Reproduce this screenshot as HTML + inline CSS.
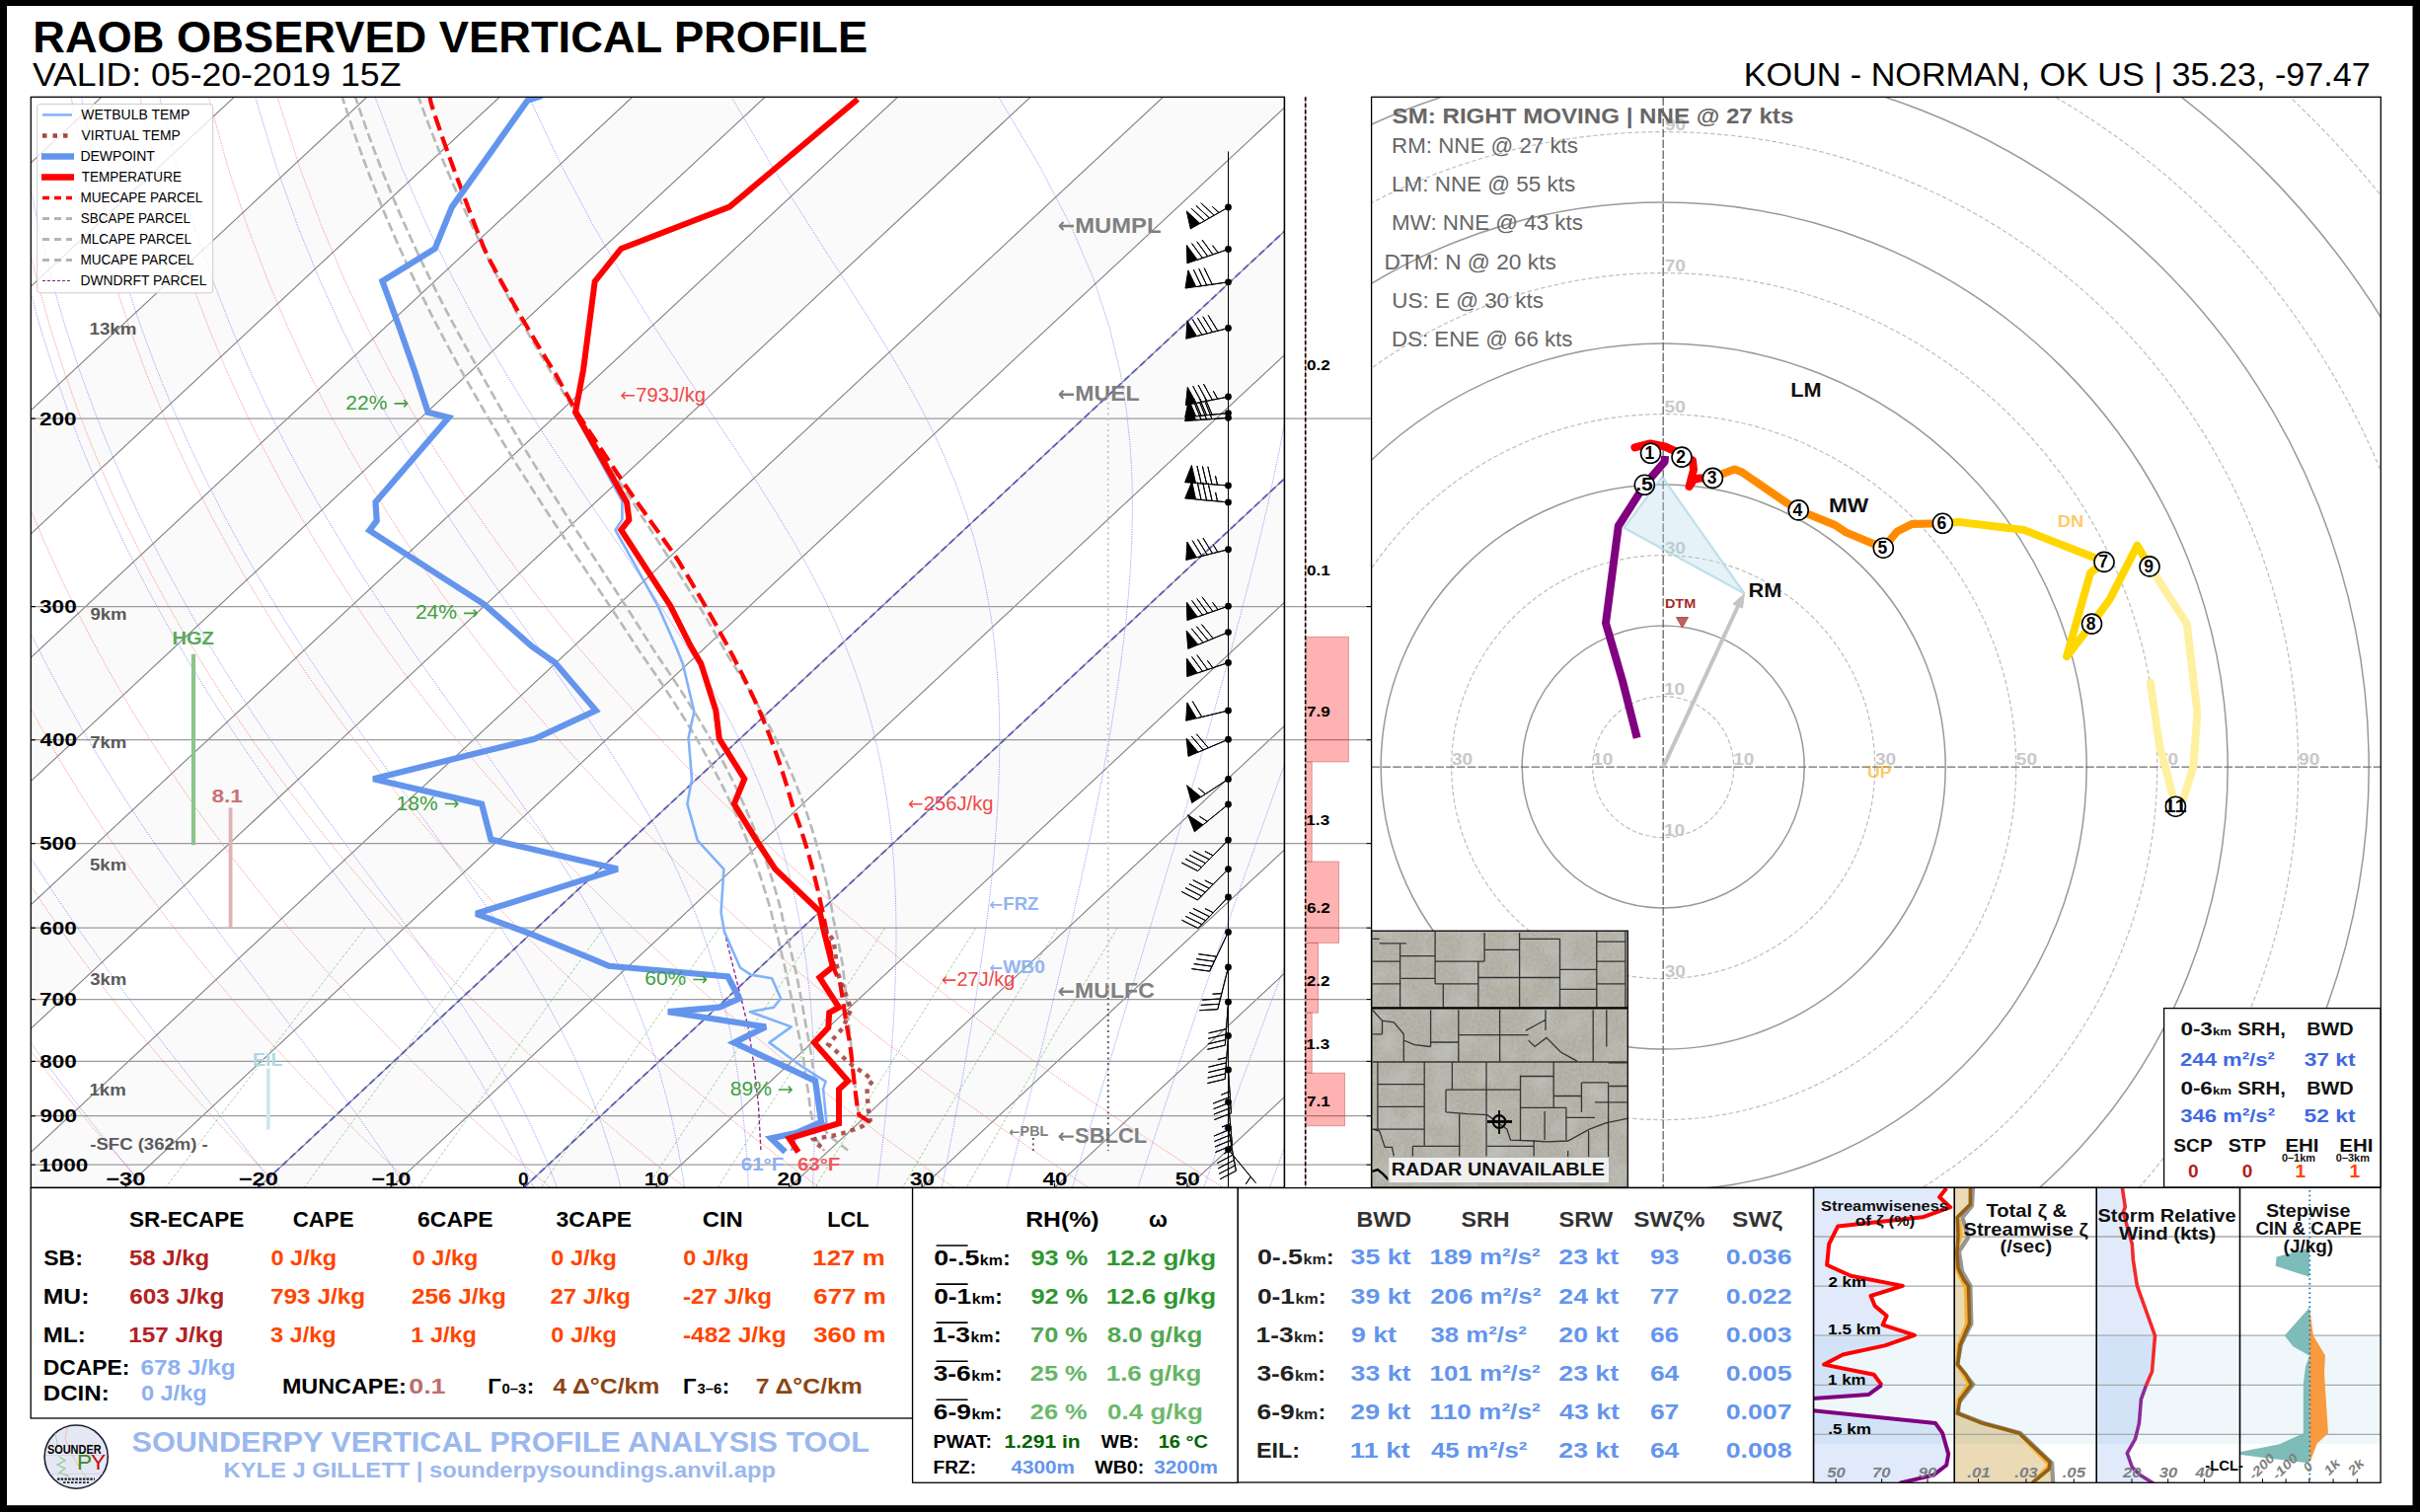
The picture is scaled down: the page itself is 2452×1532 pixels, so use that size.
<!DOCTYPE html>
<html><head><meta charset="utf-8"><style>html,body{margin:0;padding:0;background:#fff;overflow:hidden;}svg{display:block;font-family:"Liberation Sans",sans-serif;}</style></head>
<body><svg width="2452" height="1532" viewBox="0 0 2452 1532">
<rect x="0.0" y="0.0" width="2452.0" height="1532.0" fill="#ffffff" stroke="none" stroke-width="1" />
<text x="33.2" y="53.0" font-size="43.97" font-weight="bold" fill="#000" textLength="845.9" lengthAdjust="spacingAndGlyphs" >RAOB OBSERVED VERTICAL PROFILE</text>
<text x="33.0" y="87.0" font-size="33.91" fill="#000" textLength="373.4" lengthAdjust="spacingAndGlyphs" >VALID: 05-20-2019 15Z</text>
<text x="1766.7" y="87.0" font-size="33.91" fill="#000" textLength="635.1" lengthAdjust="spacingAndGlyphs" >KOUN - NORMAN, OK US | 35.23, -97.47</text>
<defs><clipPath id="cskew"><rect x="31.3" y="98.3" width="1270.1" height="1105.0"/></clipPath></defs>
<g clip-path="url(#cskew)">
<polygon points="-813.9,1203.3 -679.4,1203.3 506.2,98.3 371.8,98.3" fill="#ebebeb" stroke="none" stroke-width="0" fill-opacity="0.25"/>
<polygon points="-545.0,1203.3 -410.5,1203.3 775.1,98.3 640.7,98.3" fill="#ebebeb" stroke="none" stroke-width="0" fill-opacity="0.25"/>
<polygon points="-276.1,1203.3 -141.6,1203.3 1044.1,98.3 909.6,98.3" fill="#ebebeb" stroke="none" stroke-width="0" fill-opacity="0.25"/>
<polygon points="-7.1,1203.3 127.3,1203.3 1313.0,98.3 1178.5,98.3" fill="#ebebeb" stroke="none" stroke-width="0" fill-opacity="0.25"/>
<polygon points="261.8,1203.3 396.2,1203.3 1581.9,98.3 1447.4,98.3" fill="#ebebeb" stroke="none" stroke-width="0" fill-opacity="0.25"/>
<polygon points="530.7,1203.3 665.2,1203.3 1850.8,98.3 1716.4,98.3" fill="#ebebeb" stroke="none" stroke-width="0" fill-opacity="0.25"/>
<polygon points="799.6,1203.3 934.1,1203.3 2119.7,98.3 1985.3,98.3" fill="#ebebeb" stroke="none" stroke-width="0" fill-opacity="0.25"/>
<polygon points="1068.5,1203.3 1203.0,1203.3 2388.7,98.3 2254.2,98.3" fill="#ebebeb" stroke="none" stroke-width="0" fill-opacity="0.25"/>
<path d="M11.8,1203.1 L5.7,1195.9 L-0.4,1188.5 L-6.6,1181.0 L-12.8,1173.4 L-19.0,1165.6 L-25.3,1157.8 L-31.6,1149.8 L-38.0,1141.6 L-44.3,1133.3 L-50.7,1124.9 L-57.2,1116.3 L-63.7,1107.6 L-70.2,1098.7 L-76.8,1089.6 L-83.4,1080.3 L-90.0,1070.9 L-96.7,1061.2 L-103.4,1051.4 L-110.1,1041.3 L-116.9,1031.0 L-123.7,1020.5 L-130.6,1009.8 L-137.5,998.8 L-144.4,987.5 L-151.4,976.0 L-158.3,964.1 L-165.4,952.0 L-172.4,939.6 L-179.5,926.8 L-186.7,913.6 L-193.8,900.1 L-201.0,886.1 L-208.2,871.8 L-215.4,856.9 L-222.7,841.6 L-230.0,825.8 L-237.2,809.5 L-244.5,792.5 L-251.8,774.9 L-259.0,756.6 L-266.3,737.6 L-273.5,717.8 L-280.6,697.1 L-287.7,675.5 L-294.7,652.8 L-301.6,628.9 L-308.4,603.8 L-315.0,577.3 L-321.3,549.2 L-327.4,519.3 L-333.2,487.3 L-338.5,453.0 L-343.3,416.1 L-347.3,375.9 L-350.5,332.0 L-352.4,283.6 L-352.7,229.6 L-350.8,168.6 L-345.7,98.4 M148.2,1203.1 L141.5,1195.9 L134.7,1188.5 L127.9,1181.0 L121.1,1173.4 L114.2,1165.6 L107.3,1157.8 L100.4,1149.8 L93.4,1141.6 L86.4,1133.3 L79.3,1124.9 L72.1,1116.3 L65.0,1107.6 L57.8,1098.7 L50.5,1089.6 L43.2,1080.3 L35.8,1070.9 L28.4,1061.2 L21.0,1051.4 L13.5,1041.3 L5.9,1031.0 L-1.7,1020.5 L-9.3,1009.8 L-17.0,998.8 L-24.8,987.5 L-32.6,976.0 L-40.4,964.1 L-48.3,952.0 L-56.3,939.6 L-64.3,926.8 L-72.3,913.6 L-80.4,900.1 L-88.6,886.1 L-96.8,871.8 L-105.0,856.9 L-113.3,841.6 L-121.6,825.8 L-129.9,809.5 L-138.3,792.5 L-146.7,774.9 L-155.1,756.6 L-163.5,737.6 L-172.0,717.8 L-180.4,697.1 L-188.8,675.5 L-197.1,652.8 L-205.5,628.9 L-213.7,603.8 L-221.8,577.3 L-229.7,549.2 L-237.5,519.3 L-245.0,487.3 L-252.1,453.0 L-258.8,416.1 L-264.9,375.9 L-270.2,332.0 L-274.5,283.6 L-277.3,229.6 L-278.1,168.6 L-276.1,98.4 M284.5,1203.1 L277.2,1195.9 L269.9,1188.5 L262.5,1181.0 L255.0,1173.4 L247.5,1165.6 L240.0,1157.8 L232.4,1149.8 L224.7,1141.6 L217.0,1133.3 L209.3,1124.9 L201.5,1116.3 L193.6,1107.6 L185.7,1098.7 L177.7,1089.6 L169.7,1080.3 L161.6,1070.9 L153.5,1061.2 L145.3,1051.4 L137.0,1041.3 L128.7,1031.0 L120.3,1020.5 L111.9,1009.8 L103.4,998.8 L94.8,987.5 L86.2,976.0 L77.5,964.1 L68.7,952.0 L59.9,939.6 L51.0,926.8 L42.0,913.6 L33.0,900.1 L23.9,886.1 L14.7,871.8 L5.5,856.9 L-3.8,841.6 L-13.2,825.8 L-22.6,809.5 L-32.1,792.5 L-41.6,774.9 L-51.2,756.6 L-60.8,737.6 L-70.5,717.8 L-80.1,697.1 L-89.9,675.5 L-99.6,652.8 L-109.3,628.9 L-119.0,603.8 L-128.6,577.3 L-138.1,549.2 L-147.5,519.3 L-156.8,487.3 L-165.7,453.0 L-174.3,416.1 L-182.5,375.9 L-189.9,332.0 L-196.5,283.6 L-201.9,229.6 L-205.4,168.6 L-206.4,98.4 M420.9,1203.1 L413.0,1195.9 L405.0,1188.5 L397.0,1181.0 L388.9,1173.4 L380.8,1165.6 L372.6,1157.8 L364.4,1149.8 L356.1,1141.6 L347.7,1133.3 L339.3,1124.9 L330.8,1116.3 L322.3,1107.6 L313.7,1098.7 L305.0,1089.6 L296.2,1080.3 L287.4,1070.9 L278.6,1061.2 L269.6,1051.4 L260.6,1041.3 L251.5,1031.0 L242.3,1020.5 L233.1,1009.8 L223.8,998.8 L214.4,987.5 L204.9,976.0 L195.4,964.1 L185.7,952.0 L176.0,939.6 L166.2,926.8 L156.3,913.6 L146.4,900.1 L136.3,886.1 L126.2,871.8 L115.9,856.9 L105.6,841.6 L95.2,825.8 L84.7,809.5 L74.2,792.5 L63.5,774.9 L52.8,756.6 L41.9,737.6 L31.0,717.8 L20.1,697.1 L9.1,675.5 L-2.0,652.8 L-13.1,628.9 L-24.3,603.8 L-35.4,577.3 L-46.5,549.2 L-57.6,519.3 L-68.5,487.3 L-79.3,453.0 L-89.8,416.1 L-100.0,375.9 L-109.7,332.0 L-118.6,283.6 L-126.4,229.6 L-132.8,168.6 L-136.8,98.4 M557.2,1203.1 L548.7,1195.9 L540.1,1188.5 L531.5,1181.0 L522.8,1173.4 L514.1,1165.6 L505.3,1157.8 L496.4,1149.8 L487.4,1141.6 L478.4,1133.3 L469.3,1124.9 L460.2,1116.3 L450.9,1107.6 L441.6,1098.7 L432.2,1089.6 L422.8,1080.3 L413.2,1070.9 L403.6,1061.2 L393.9,1051.4 L384.2,1041.3 L374.3,1031.0 L364.4,1020.5 L354.3,1009.8 L344.2,998.8 L334.0,987.5 L323.7,976.0 L313.3,964.1 L302.8,952.0 L292.2,939.6 L281.5,926.8 L270.7,913.6 L259.8,900.1 L248.7,886.1 L237.6,871.8 L226.4,856.9 L215.1,841.6 L203.6,825.8 L192.0,809.5 L180.4,792.5 L168.6,774.9 L156.7,756.6 L144.7,737.6 L132.5,717.8 L120.3,697.1 L108.0,675.5 L95.5,652.8 L83.0,628.9 L70.4,603.8 L57.8,577.3 L45.1,549.2 L32.4,519.3 L19.7,487.3 L7.1,453.0 L-5.4,416.1 L-17.6,375.9 L-29.4,332.0 L-40.6,283.6 L-51.0,229.6 L-60.1,168.6 L-67.2,98.4 M693.6,1203.1 L684.5,1195.9 L675.3,1188.5 L666.0,1181.0 L656.7,1173.4 L647.3,1165.6 L637.9,1157.8 L628.4,1149.8 L618.8,1141.6 L609.1,1133.3 L599.3,1124.9 L589.5,1116.3 L579.6,1107.6 L569.6,1098.7 L559.5,1089.6 L549.3,1080.3 L539.1,1070.9 L528.7,1061.2 L518.3,1051.4 L507.7,1041.3 L497.1,1031.0 L486.4,1020.5 L475.5,1009.8 L464.6,998.8 L453.6,987.5 L442.4,976.0 L431.2,964.1 L419.8,952.0 L408.3,939.6 L396.7,926.8 L385.0,913.6 L373.2,900.1 L361.2,886.1 L349.1,871.8 L336.9,856.9 L324.5,841.6 L312.0,825.8 L299.4,809.5 L286.6,792.5 L273.7,774.9 L260.6,756.6 L247.4,737.6 L234.0,717.8 L220.5,697.1 L206.9,675.5 L193.1,652.8 L179.2,628.9 L165.1,603.8 L151.0,577.3 L136.7,549.2 L122.3,519.3 L107.9,487.3 L93.5,453.0 L79.1,416.1 L64.9,375.9 L50.9,332.0 L37.3,283.6 L24.4,229.6 L12.6,168.6 L2.5,98.4 M829.9,1203.1 L820.2,1195.9 L810.4,1188.5 L800.6,1181.0 L790.6,1173.4 L780.6,1165.6 L770.5,1157.8 L760.4,1149.8 L750.1,1141.6 L739.8,1133.3 L729.3,1124.9 L718.8,1116.3 L708.2,1107.6 L697.5,1098.7 L686.7,1089.6 L675.9,1080.3 L664.9,1070.9 L653.8,1061.2 L642.6,1051.4 L631.3,1041.3 L619.9,1031.0 L608.4,1020.5 L596.8,1009.8 L585.0,998.8 L573.2,987.5 L561.2,976.0 L549.1,964.1 L536.8,952.0 L524.5,939.6 L512.0,926.8 L499.3,913.6 L486.6,900.1 L473.6,886.1 L460.6,871.8 L447.3,856.9 L433.9,841.6 L420.4,825.8 L406.7,809.5 L392.8,792.5 L378.8,774.9 L364.5,756.6 L350.1,737.6 L335.5,717.8 L320.8,697.1 L305.8,675.5 L290.7,652.8 L275.3,628.9 L259.8,603.8 L244.1,577.3 L228.3,549.2 L212.3,519.3 L196.1,487.3 L179.9,453.0 L163.6,416.1 L147.3,375.9 L131.2,332.0 L115.3,283.6 L99.8,229.6 L85.3,168.6 L72.1,98.4 M966.3,1203.1 L956.0,1195.9 L945.6,1188.5 L935.1,1181.0 L924.5,1173.4 L913.9,1165.6 L903.2,1157.8 L892.4,1149.8 L881.4,1141.6 L870.5,1133.3 L859.4,1124.9 L848.2,1116.3 L836.9,1107.6 L825.5,1098.7 L814.0,1089.6 L802.4,1080.3 L790.7,1070.9 L778.9,1061.2 L766.9,1051.4 L754.9,1041.3 L742.7,1031.0 L730.4,1020.5 L718.0,1009.8 L705.4,998.8 L692.8,987.5 L679.9,976.0 L667.0,964.1 L653.9,952.0 L640.6,939.6 L627.2,926.8 L613.7,913.6 L600.0,900.1 L586.1,886.1 L572.0,871.8 L557.8,856.9 L543.4,841.6 L528.8,825.8 L514.0,809.5 L499.0,792.5 L483.8,774.9 L468.5,756.6 L452.9,737.6 L437.0,717.8 L421.0,697.1 L404.7,675.5 L388.2,652.8 L371.5,628.9 L354.5,603.8 L337.3,577.3 L319.9,549.2 L302.2,519.3 L284.4,487.3 L266.3,453.0 L248.1,416.1 L229.8,375.9 L211.4,332.0 L193.2,283.6 L175.3,229.6 L158.0,168.6 L141.8,98.4 M1102.6,1203.1 L1091.7,1195.9 L1080.7,1188.5 L1069.6,1181.0 L1058.4,1173.4 L1047.2,1165.6 L1035.8,1157.8 L1024.4,1149.8 L1012.8,1141.6 L1001.1,1133.3 L989.4,1124.9 L977.5,1116.3 L965.5,1107.6 L953.4,1098.7 L941.2,1089.6 L928.9,1080.3 L916.5,1070.9 L903.9,1061.2 L891.3,1051.4 L878.4,1041.3 L865.5,1031.0 L852.4,1020.5 L839.2,1009.8 L825.9,998.8 L812.3,987.5 L798.7,976.0 L784.9,964.1 L770.9,952.0 L756.8,939.6 L742.5,926.8 L728.0,913.6 L713.3,900.1 L698.5,886.1 L683.5,871.8 L668.2,856.9 L652.8,841.6 L637.2,825.8 L621.3,809.5 L605.2,792.5 L588.9,774.9 L572.4,756.6 L555.6,737.6 L538.5,717.8 L521.2,697.1 L503.7,675.5 L485.8,652.8 L467.7,628.9 L449.2,603.8 L430.5,577.3 L411.5,549.2 L392.2,519.3 L372.6,487.3 L352.7,453.0 L332.6,416.1 L312.2,375.9 L291.7,332.0 L271.1,283.6 L250.7,229.6 L230.6,168.6 L211.4,98.4 M1239.0,1203.1 L1227.4,1195.9 L1215.8,1188.5 L1204.1,1181.0 L1192.3,1173.4 L1180.4,1165.6 L1168.4,1157.8 L1156.3,1149.8 L1144.1,1141.6 L1131.8,1133.3 L1119.4,1124.9 L1106.8,1116.3 L1094.2,1107.6 L1081.4,1098.7 L1068.5,1089.6 L1055.5,1080.3 L1042.3,1070.9 L1029.0,1061.2 L1015.6,1051.4 L1002.0,1041.3 L988.3,1031.0 L974.4,1020.5 L960.4,1009.8 L946.3,998.8 L931.9,987.5 L917.4,976.0 L902.8,964.1 L888.0,952.0 L872.9,939.6 L857.7,926.8 L842.3,913.6 L826.7,900.1 L810.9,886.1 L794.9,871.8 L778.7,856.9 L762.3,841.6 L745.6,825.8 L728.6,809.5 L711.5,792.5 L694.0,774.9 L676.3,756.6 L658.3,737.6 L640.0,717.8 L621.5,697.1 L602.6,675.5 L583.4,652.8 L563.8,628.9 L543.9,603.8 L523.7,577.3 L503.1,549.2 L482.1,519.3 L460.8,487.3 L439.1,453.0 L417.1,416.1 L394.7,375.9 L372.0,332.0 L349.1,283.6 L326.1,229.6 L303.3,168.6 L281.1,98.4" fill="none" stroke="#ff0000" stroke-opacity="0.55" stroke-width="0.8" stroke-dasharray="1.2 1.2"/>
<path d="M10.8,1203.1 L5.1,1195.9 L-0.7,1188.5 L-6.6,1181.0 L-7.2,1180.2 L-12.5,1173.4 L-18.5,1165.6 L-24.5,1157.8 L-30.6,1149.8 L-36.8,1141.6 L-43.0,1133.3 L-49.2,1124.9 L-55.5,1116.3 L-61.9,1107.6 L-68.3,1098.7 L-74.7,1089.6 L-81.2,1080.3 L-87.7,1070.9 L-94.3,1061.2 L-101.0,1051.4 L-107.7,1041.3 L-114.4,1031.0 L-121.2,1020.5 L-128.0,1009.8 L-134.9,998.8 L-141.8,987.5 L-148.7,976.0 L-155.7,964.1 L-162.7,952.0 L-169.8,939.6 L-176.9,926.8 L-184.0,913.6 L-191.2,900.1 L-198.4,886.1 L-205.6,871.8 L-212.9,856.9 L-220.1,841.6 L-227.4,825.8 L-234.7,809.5 L-242.0,792.5 L-249.3,774.9 L-256.6,756.6 L-263.8,737.6 L-271.1,717.8 L-278.2,697.1 L-285.4,675.5 L-292.4,652.8 L-299.3,628.9 L-306.1,603.8 L-312.8,577.3 L-319.2,549.2 L-325.3,519.3 L-331.1,487.3 L-336.5,453.0 L-341.3,416.1 L-345.4,375.9 L-348.6,332.0 L-350.6,283.6 L-350.9,229.6 L-349.1,168.6 L-344.1,98.4 M145.7,1203.1 L139.8,1195.9 L133.9,1188.5 L127.9,1181.0 L127.2,1180.2 L121.8,1173.4 L115.6,1165.6 L109.3,1157.8 L102.9,1149.8 L96.4,1141.6 L89.9,1133.3 L83.3,1124.9 L76.6,1116.3 L69.8,1107.6 L62.9,1098.7 L56.0,1089.6 L48.9,1080.3 L41.8,1070.9 L34.6,1061.2 L27.4,1051.4 L20.1,1041.3 L12.7,1031.0 L5.2,1020.5 L-2.3,1009.8 L-10.0,998.8 L-17.6,987.5 L-25.4,976.0 L-33.2,964.1 L-41.1,952.0 L-49.0,939.6 L-57.0,926.8 L-65.0,913.6 L-73.1,900.1 L-81.3,886.1 L-89.5,871.8 L-97.8,856.9 L-106.1,841.6 L-114.5,825.8 L-122.9,809.5 L-131.3,792.5 L-139.8,774.9 L-148.3,756.6 L-156.8,737.6 L-165.3,717.8 L-173.8,697.1 L-182.3,675.5 L-190.7,652.8 L-199.1,628.9 L-207.4,603.8 L-215.6,577.3 L-223.7,549.2 L-231.6,519.3 L-239.2,487.3 L-246.4,453.0 L-253.2,416.1 L-259.5,375.9 L-264.9,332.0 L-269.3,283.6 L-272.3,229.6 L-273.3,168.6 L-271.5,98.4 M279.1,1203.1 L273.6,1195.9 L268.0,1188.5 L262.3,1181.0 L261.7,1180.2 L256.4,1173.4 L250.5,1165.6 L244.3,1157.8 L238.1,1149.8 L231.7,1141.6 L225.2,1133.3 L218.6,1124.9 L211.8,1116.3 L204.9,1107.6 L197.9,1098.7 L190.7,1089.6 L183.5,1080.3 L176.0,1070.9 L168.5,1061.2 L160.9,1051.4 L153.1,1041.3 L145.2,1031.0 L137.2,1020.5 L129.1,1009.8 L120.9,998.8 L112.6,987.5 L104.1,976.0 L95.6,964.1 L86.9,952.0 L78.2,939.6 L69.3,926.8 L60.4,913.6 L51.3,900.1 L42.2,886.1 L33.0,871.8 L23.7,856.9 L14.3,841.6 L4.8,825.8 L-4.7,809.5 L-14.3,792.5 L-24.0,774.9 L-33.8,756.6 L-43.6,737.6 L-53.4,717.8 L-63.3,697.1 L-73.3,675.5 L-83.2,652.8 L-93.1,628.9 L-103.1,603.8 L-112.9,577.3 L-122.7,549.2 L-132.4,519.3 L-141.9,487.3 L-151.2,453.0 L-160.1,416.1 L-168.6,375.9 L-176.4,332.0 L-183.4,283.6 L-189.2,229.6 L-193.2,168.6 L-194.7,98.4 M410.6,1203.1 L406.1,1195.9 L401.5,1188.5 L396.7,1181.0 L396.1,1180.2 L391.7,1173.4 L386.6,1165.6 L381.3,1157.8 L375.8,1149.8 L370.1,1141.6 L364.3,1133.3 L358.3,1124.9 L352.1,1116.3 L345.8,1107.6 L339.2,1098.7 L332.5,1089.6 L325.5,1080.3 L318.4,1070.9 L311.1,1061.2 L303.5,1051.4 L295.8,1041.3 L287.9,1031.0 L279.8,1020.5 L271.5,1009.8 L263.1,998.8 L254.4,987.5 L245.6,976.0 L236.5,964.1 L227.3,952.0 L218.0,939.6 L208.4,926.8 L198.7,913.6 L188.9,900.1 L178.9,886.1 L168.7,871.8 L158.4,856.9 L147.9,841.6 L137.3,825.8 L126.6,809.5 L115.7,792.5 L104.7,774.9 L93.6,756.6 L82.4,737.6 L71.1,717.8 L59.7,697.1 L48.2,675.5 L36.6,652.8 L24.9,628.9 L13.2,603.8 L1.5,577.3 L-10.2,549.2 L-21.9,519.3 L-33.6,487.3 L-45.1,453.0 L-56.4,416.1 L-67.3,375.9 L-77.8,332.0 L-87.7,283.6 L-96.5,229.6 L-103.9,168.6 L-109.2,98.4 M540.5,1203.1 L537.5,1195.9 L534.3,1188.5 L531.0,1181.0 L530.6,1180.2 L527.5,1173.4 L523.9,1165.6 L520.1,1157.8 L516.1,1149.8 L512.0,1141.6 L507.7,1133.3 L503.1,1124.9 L498.4,1116.3 L493.5,1107.6 L488.4,1098.7 L483.0,1089.6 L477.4,1080.3 L471.5,1070.9 L465.4,1061.2 L459.1,1051.4 L452.4,1041.3 L445.5,1031.0 L438.3,1020.5 L430.8,1009.8 L423.1,998.8 L415.0,987.5 L406.6,976.0 L398.0,964.1 L389.0,952.0 L379.7,939.6 L370.1,926.8 L360.3,913.6 L350.1,900.1 L339.6,886.1 L328.9,871.8 L317.9,856.9 L306.6,841.6 L295.0,825.8 L283.2,809.5 L271.2,792.5 L258.9,774.9 L246.4,756.6 L233.6,737.6 L220.7,717.8 L207.5,697.1 L194.2,675.5 L180.7,652.8 L167.1,628.9 L153.3,603.8 L139.3,577.3 L125.3,549.2 L111.2,519.3 L97.0,487.3 L82.8,453.0 L68.7,416.1 L54.7,375.9 L40.9,332.0 L27.7,283.6 L15.1,229.6 L3.6,168.6 L-6.1,98.4 M564.4,1203.1 L561.7,1195.9 L558.8,1188.5 L555.8,1181.0 L555.5,1180.2 L552.7,1173.4 L549.4,1165.6 L545.9,1157.8 L542.3,1149.8 L538.5,1141.6 L534.5,1133.3 L530.4,1124.9 L526.0,1116.3 L521.5,1107.6 L516.7,1098.7 L511.7,1089.6 L506.5,1080.3 L501.0,1070.9 L495.2,1061.2 L489.2,1051.4 L483.0,1041.3 L476.4,1031.0 L469.5,1020.5 L462.4,1009.8 L454.9,998.8 L447.1,987.5 L439.0,976.0 L430.6,964.1 L421.8,952.0 L412.7,939.6 L403.3,926.8 L393.6,913.6 L383.5,900.1 L373.1,886.1 L362.3,871.8 L351.3,856.9 L339.9,841.6 L328.3,825.8 L316.3,809.5 L304.1,792.5 L291.6,774.9 L278.9,756.6 L265.8,737.6 L252.6,717.8 L239.1,697.1 L225.5,675.5 L211.6,652.8 L197.5,628.9 L183.3,603.8 L168.9,577.3 L154.3,549.2 L139.7,519.3 L125.0,487.3 L110.2,453.0 L95.5,416.1 L80.8,375.9 L66.4,332.0 L52.4,283.6 L39.0,229.6 L26.7,168.6 L16.0,98.4 M629.0,1203.1 L627.1,1195.9 L625.1,1188.5 L622.9,1181.0 L622.7,1180.2 L620.7,1173.4 L618.3,1165.6 L615.8,1157.8 L613.2,1149.8 L610.4,1141.6 L607.5,1133.3 L604.4,1124.9 L601.1,1116.3 L597.7,1107.6 L594.0,1098.7 L590.2,1089.6 L586.1,1080.3 L581.8,1070.9 L577.2,1061.2 L572.4,1051.4 L567.4,1041.3 L562.0,1031.0 L556.3,1020.5 L550.4,1009.8 L544.0,998.8 L537.4,987.5 L530.4,976.0 L523.0,964.1 L515.2,952.0 L507.0,939.6 L498.4,926.8 L489.4,913.6 L479.9,900.1 L470.1,886.1 L459.8,871.8 L449.0,856.9 L437.8,841.6 L426.2,825.8 L414.1,809.5 L401.7,792.5 L388.8,774.9 L375.6,756.6 L362.0,737.6 L348.0,717.8 L333.7,697.1 L319.1,675.5 L304.1,652.8 L288.9,628.9 L273.4,603.8 L257.6,577.3 L241.7,549.2 L225.5,519.3 L209.1,487.3 L192.7,453.0 L176.1,416.1 L159.5,375.9 L143.1,332.0 L126.8,283.6 L111.0,229.6 L96.1,168.6 L82.5,98.4 M693.6,1203.1 L692.5,1195.9 L691.3,1188.5 L690.1,1181.0 L689.9,1180.2 L688.7,1173.4 L687.3,1165.6 L685.8,1157.8 L684.1,1149.8 L682.4,1141.6 L680.5,1133.3 L678.5,1124.9 L676.4,1116.3 L674.1,1107.6 L671.7,1098.7 L669.1,1089.6 L666.4,1080.3 L663.4,1070.9 L660.3,1061.2 L656.9,1051.4 L653.3,1041.3 L649.4,1031.0 L645.3,1020.5 L640.9,1009.8 L636.2,998.8 L631.1,987.5 L625.7,976.0 L620.0,964.1 L613.8,952.0 L607.2,939.6 L600.2,926.8 L592.7,913.6 L584.7,900.1 L576.2,886.1 L567.1,871.8 L557.5,856.9 L547.3,841.6 L536.5,825.8 L525.1,809.5 L513.2,792.5 L500.6,774.9 L487.4,756.6 L473.7,737.6 L459.4,717.8 L444.5,697.1 L429.2,675.5 L413.3,652.8 L397.0,628.9 L380.2,603.8 L363.0,577.3 L345.5,549.2 L327.6,519.3 L309.4,487.3 L290.9,453.0 L272.2,416.1 L253.3,375.9 L234.4,332.0 L215.5,283.6 L196.9,229.6 L178.8,168.6 L161.7,98.4 M758.4,1203.1 L758.0,1195.9 L757.7,1188.5 L757.2,1181.0 L757.2,1180.2 L756.7,1173.4 L756.2,1165.6 L755.6,1157.8 L754.9,1149.8 L754.1,1141.6 L753.3,1133.3 L752.4,1124.9 L751.4,1116.3 L750.3,1107.6 L749.0,1098.7 L747.7,1089.6 L746.3,1080.3 L744.7,1070.9 L743.0,1061.2 L741.1,1051.4 L739.0,1041.3 L736.8,1031.0 L734.4,1020.5 L731.7,1009.8 L728.8,998.8 L725.7,987.5 L722.2,976.0 L718.5,964.1 L714.4,952.0 L710.0,939.6 L705.2,926.8 L699.9,913.6 L694.2,900.1 L688.0,886.1 L681.2,871.8 L673.8,856.9 L665.9,841.6 L657.2,825.8 L647.8,809.5 L637.7,792.5 L626.7,774.9 L614.9,756.6 L602.3,737.6 L588.8,717.8 L574.5,697.1 L559.3,675.5 L543.2,652.8 L526.4,628.9 L508.8,603.8 L490.4,577.3 L471.4,549.2 L451.7,519.3 L431.5,487.3 L410.7,453.0 L389.5,416.1 L367.9,375.9 L346.0,332.0 L323.9,283.6 L301.8,229.6 L279.9,168.6 L258.6,98.4 M823.4,1203.1 L823.8,1195.9 L824.1,1188.5 L824.4,1181.0 L824.4,1180.2 L824.6,1173.4 L824.9,1165.6 L825.1,1157.8 L825.3,1149.8 L825.4,1141.6 L825.5,1133.3 L825.5,1124.9 L825.5,1116.3 L825.5,1107.6 L825.4,1098.7 L825.2,1089.6 L825.0,1080.3 L824.7,1070.9 L824.3,1061.2 L823.8,1051.4 L823.2,1041.3 L822.5,1031.0 L821.7,1020.5 L820.7,1009.8 L819.6,998.8 L818.3,987.5 L816.9,976.0 L815.2,964.1 L813.4,952.0 L811.3,939.6 L808.9,926.8 L806.2,913.6 L803.2,900.1 L799.8,886.1 L796.0,871.8 L791.7,856.9 L786.9,841.6 L781.5,825.8 L775.4,809.5 L768.7,792.5 L761.1,774.9 L752.7,756.6 L743.3,737.6 L732.8,717.8 L721.3,697.1 L708.5,675.5 L694.4,652.8 L679.0,628.9 L662.3,603.8 L644.2,577.3 L624.8,549.2 L604.2,519.3 L582.4,487.3 L559.5,453.0 L535.7,416.1 L511.0,375.9 L485.7,332.0 L459.7,283.6 L433.2,229.6 L406.6,168.6 L380.0,98.4 M888.8,1203.1 L889.7,1195.9 L890.6,1188.5 L891.5,1181.0 L891.6,1180.2 L892.5,1173.4 L893.4,1165.6 L894.3,1157.8 L895.2,1149.8 L896.1,1141.6 L897.0,1133.3 L897.9,1124.9 L898.7,1116.3 L899.6,1107.6 L900.4,1098.7 L901.2,1089.6 L902.0,1080.3 L902.8,1070.9 L903.5,1061.2 L904.2,1051.4 L904.9,1041.3 L905.5,1031.0 L906.1,1020.5 L906.6,1009.8 L907.0,998.8 L907.4,987.5 L907.7,976.0 L907.9,964.1 L908.0,952.0 L908.0,939.6 L907.8,926.8 L907.5,913.6 L907.0,900.1 L906.3,886.1 L905.4,871.8 L904.2,856.9 L902.7,841.6 L900.8,825.8 L898.5,809.5 L895.8,792.5 L892.6,774.9 L888.7,756.6 L884.1,737.6 L878.7,717.8 L872.3,697.1 L864.8,675.5 L856.0,652.8 L845.8,628.9 L833.9,603.8 L820.1,577.3 L804.4,549.2 L786.4,519.3 L766.2,487.3 L743.7,453.0 L718.9,416.1 L692.1,375.9 L663.5,332.0 L633.3,283.6 L601.8,229.6 L569.2,168.6 L536.0,98.4 M954.4,1203.1 L955.8,1195.9 L957.3,1188.5 L958.7,1181.0 L958.9,1180.2 L960.2,1173.4 L961.6,1165.6 L963.1,1157.8 L964.7,1149.8 L966.2,1141.6 L967.7,1133.3 L969.3,1124.9 L970.9,1116.3 L972.4,1107.6 L974.0,1098.7 L975.7,1089.6 L977.3,1080.3 L978.9,1070.9 L980.6,1061.2 L982.2,1051.4 L983.9,1041.3 L985.6,1031.0 L987.3,1020.5 L989.0,1009.8 L990.7,998.8 L992.3,987.5 L994.0,976.0 L995.7,964.1 L997.4,952.0 L999.0,939.6 L1000.6,926.8 L1002.2,913.6 L1003.7,900.1 L1005.2,886.1 L1006.6,871.8 L1007.9,856.9 L1009.1,841.6 L1010.2,825.8 L1011.2,809.5 L1011.9,792.5 L1012.5,774.9 L1012.8,756.6 L1012.7,737.6 L1012.3,717.8 L1011.4,697.1 L1009.9,675.5 L1007.7,652.8 L1004.7,628.9 L1000.5,603.8 L995.1,577.3 L988.0,549.2 L978.9,519.3 L967.3,487.3 L952.8,453.0 L934.7,416.1 L912.6,375.9 L886.2,332.0 L855.5,283.6 L820.7,229.6 L782.3,168.6 L741.3,98.4 M1020.4,1203.1 L1022.2,1195.9 L1024.0,1188.5 L1025.9,1181.0 L1026.1,1180.2 L1027.8,1173.4 L1029.7,1165.6 L1031.7,1157.8 L1033.7,1149.8 L1035.7,1141.6 L1037.8,1133.3 L1039.9,1124.9 L1042.0,1116.3 L1044.2,1107.6 L1046.4,1098.7 L1048.6,1089.6 L1050.9,1080.3 L1053.2,1070.9 L1055.6,1061.2 L1058.0,1051.4 L1060.4,1041.3 L1062.9,1031.0 L1065.5,1020.5 L1068.0,1009.8 L1070.7,998.8 L1073.3,987.5 L1076.1,976.0 L1078.8,964.1 L1081.7,952.0 L1084.5,939.6 L1087.5,926.8 L1090.4,913.6 L1093.5,900.1 L1096.5,886.1 L1099.6,871.8 L1102.8,856.9 L1106.0,841.6 L1109.2,825.8 L1112.5,809.5 L1115.8,792.5 L1119.1,774.9 L1122.4,756.6 L1125.7,737.6 L1128.9,717.8 L1132.1,697.1 L1135.2,675.5 L1138.1,652.8 L1140.9,628.9 L1143.3,603.8 L1145.3,577.3 L1146.8,549.2 L1147.4,519.3 L1147.1,487.3 L1145.3,453.0 L1141.4,416.1 L1134.8,375.9 L1124.3,332.0 L1108.4,283.6 L1085.4,229.6 L1053.5,168.6 L1011.9,98.4 M1086.6,1203.1 L1088.7,1195.9 L1090.9,1188.5 L1093.1,1181.0 L1093.3,1180.2 L1095.3,1173.4 L1097.6,1165.6 L1099.9,1157.8 L1102.3,1149.8 L1104.7,1141.6 L1107.2,1133.3 L1109.7,1124.9 L1112.2,1116.3 L1114.9,1107.6 L1117.5,1098.7 L1120.2,1089.6 L1123.0,1080.3 L1125.9,1070.9 L1128.7,1061.2 L1131.7,1051.4 L1134.7,1041.3 L1137.8,1031.0 L1141.0,1020.5 L1144.2,1009.8 L1147.6,998.8 L1151.0,987.5 L1154.5,976.0 L1158.0,964.1 L1161.7,952.0 L1165.5,939.6 L1169.3,926.8 L1173.3,913.6 L1177.3,900.1 L1181.5,886.1 L1185.8,871.8 L1190.3,856.9 L1194.8,841.6 L1199.5,825.8 L1204.4,809.5 L1209.3,792.5 L1214.5,774.9 L1219.8,756.6 L1225.3,737.6 L1230.9,717.8 L1236.7,697.1 L1242.8,675.5 L1249.0,652.8 L1255.3,628.9 L1261.9,603.8 L1268.7,577.3 L1275.6,549.2 L1282.7,519.3 L1289.8,487.3 L1296.9,453.0 L1303.8,416.1 L1310.4,375.9 L1316.2,332.0 L1320.6,283.6 L1322.5,229.6 L1319.8,168.6 L1309.2,98.4 M1153.1,1203.1 L1155.4,1195.9 L1157.8,1188.5 L1160.3,1181.0 L1160.5,1180.2 L1162.8,1173.4 L1165.3,1165.6 L1167.9,1157.8 L1170.6,1149.8 L1173.3,1141.6 L1176.0,1133.3 L1178.9,1124.9 L1181.7,1116.3 L1184.7,1107.6 L1187.7,1098.7 L1190.8,1089.6 L1193.9,1080.3 L1197.1,1070.9 L1200.4,1061.2 L1203.8,1051.4 L1207.2,1041.3 L1210.7,1031.0 L1214.4,1020.5 L1218.1,1009.8 L1221.9,998.8 L1225.8,987.5 L1229.8,976.0 L1234.0,964.1 L1238.2,952.0 L1242.6,939.6 L1247.1,926.8 L1251.8,913.6 L1256.6,900.1 L1261.5,886.1 L1266.6,871.8 L1271.9,856.9 L1277.4,841.6 L1283.1,825.8 L1288.9,809.5 L1295.0,792.5 L1301.4,774.9 L1308.0,756.6 L1314.8,737.6 L1322.0,717.8 L1329.5,697.1 L1337.3,675.5 L1345.5,652.8 L1354.1,628.9 L1363.1,603.8 L1372.7,577.3 L1382.7,549.2 L1393.3,519.3 L1404.6,487.3 L1416.6,453.0 L1429.3,416.1 L1442.9,375.9 L1457.4,332.0 L1472.8,283.6 L1489.2,229.6 L1506.4,168.6 L1523.9,98.4 M1219.7,1203.1 L1222.3,1195.9 L1224.9,1188.5 L1227.5,1181.0 L1227.8,1180.2 L1230.2,1173.4 L1232.9,1165.6 L1235.7,1157.8 L1238.6,1149.8 L1241.5,1141.6 L1244.5,1133.3 L1247.5,1124.9 L1250.6,1116.3 L1253.8,1107.6 L1257.0,1098.7 L1260.3,1089.6 L1263.7,1080.3 L1267.2,1070.9 L1270.8,1061.2 L1274.4,1051.4 L1278.2,1041.3 L1282.0,1031.0 L1286.0,1020.5 L1290.0,1009.8 L1294.2,998.8 L1298.5,987.5 L1302.9,976.0 L1307.4,964.1 L1312.0,952.0 L1316.8,939.6 L1321.8,926.8 L1326.9,913.6 L1332.2,900.1 L1337.7,886.1 L1343.3,871.8 L1349.2,856.9 L1355.2,841.6 L1361.6,825.8 L1368.1,809.5 L1374.9,792.5 L1382.0,774.9 L1389.4,756.6 L1397.2,737.6 L1405.3,717.8 L1413.8,697.1 L1422.7,675.5 L1432.1,652.8 L1442.1,628.9 L1452.5,603.8 L1463.7,577.3 L1475.5,549.2 L1488.2,519.3 L1501.7,487.3 L1516.3,453.0 L1532.1,416.1 L1549.3,375.9 L1568.1,332.0 L1588.8,283.6 L1611.8,229.6 L1637.7,168.6 L1667.1,98.4 M1286.6,1203.1 L1289.2,1195.9 L1292.0,1188.5 L1294.7,1181.0 L1295.0,1180.2 L1297.5,1173.4 L1300.4,1165.6 L1303.3,1157.8 L1306.3,1149.8 L1309.4,1141.6 L1312.5,1133.3 L1315.7,1124.9 L1319.0,1116.3 L1322.3,1107.6 L1325.7,1098.7 L1329.2,1089.6 L1332.8,1080.3 L1336.4,1070.9 L1340.2,1061.2 L1344.0,1051.4 L1348.0,1041.3 L1352.0,1031.0 L1356.2,1020.5 L1360.4,1009.8 L1364.8,998.8 L1369.3,987.5 L1374.0,976.0 L1378.8,964.1 L1383.7,952.0 L1388.8,939.6 L1394.0,926.8 L1399.4,913.6 L1405.1,900.1 L1410.8,886.1 L1416.8,871.8 L1423.1,856.9 L1429.5,841.6 L1436.2,825.8 L1443.2,809.5 L1450.5,792.5 L1458.1,774.9 L1466.0,756.6 L1474.3,737.6 L1483.0,717.8 L1492.1,697.1 L1501.7,675.5 L1511.9,652.8 L1522.6,628.9 L1533.9,603.8 L1546.0,577.3 L1558.9,549.2 L1572.7,519.3 L1587.5,487.3 L1603.6,453.0 L1621.0,416.1 L1640.1,375.9 L1661.1,332.0 L1684.5,283.6 L1710.7,229.6 L1740.7,168.6 L1775.3,98.4" fill="none" stroke="#0000ff" stroke-opacity="0.5" stroke-width="0.8" stroke-dasharray="1.2 1.2"/>
<path d="M370.2,940.2 L356.1,958.4 L342.5,975.9 L329.4,992.8 L316.8,1009.1 L304.6,1024.8 L292.8,1040.1 L281.5,1054.8 L270.4,1069.1 L259.8,1083.0 L249.4,1096.5 L239.3,1109.6 L229.5,1122.4 L220.0,1134.8 L210.8,1146.9 L201.7,1158.7 L193.0,1170.2 L184.4,1181.4 L176.0,1192.4 L167.9,1203.1 M503.0,940.2 L489.4,958.4 L476.3,975.9 L463.7,992.8 L451.5,1009.1 L439.8,1024.8 L428.5,1040.1 L417.5,1054.8 L406.9,1069.1 L396.7,1083.0 L386.7,1096.5 L377.0,1109.6 L367.6,1122.4 L358.5,1134.8 L349.6,1146.9 L340.9,1158.7 L332.5,1170.2 L324.3,1181.4 L316.2,1192.4 L308.4,1203.1 M611.9,940.2 L598.7,958.4 L586.0,975.9 L573.9,992.8 L562.1,1009.1 L550.8,1024.8 L539.8,1040.1 L529.3,1054.8 L519.0,1069.1 L509.1,1083.0 L499.5,1096.5 L490.1,1109.6 L481.1,1122.4 L472.2,1134.8 L463.7,1146.9 L455.3,1158.7 L447.2,1170.2 L439.2,1181.4 L431.5,1192.4 L423.9,1203.1 M728.8,940.2 L716.1,958.4 L703.9,975.9 L692.2,992.8 L680.9,1009.1 L670.0,1024.8 L659.5,1040.1 L649.3,1054.8 L639.5,1069.1 L629.9,1083.0 L620.7,1096.5 L611.7,1109.6 L603.0,1122.4 L594.6,1134.8 L586.3,1146.9 L578.3,1158.7 L570.5,1170.2 L562.9,1181.4 L555.5,1192.4 L548.3,1203.1 M829.5,940.2 L817.2,958.4 L805.4,975.9 L794.1,992.8 L783.2,1009.1 L772.7,1024.8 L762.6,1040.1 L752.8,1054.8 L743.3,1069.1 L734.1,1083.0 L725.2,1096.5 L716.6,1109.6 L708.2,1122.4 L700.1,1134.8 L692.1,1146.9 L684.4,1158.7 L676.9,1170.2 L669.6,1181.4 L662.5,1192.4 L655.6,1203.1 M896.7,940.2 L884.7,958.4 L873.2,975.9 L862.2,992.8 L851.6,1009.1 L841.4,1024.8 L831.5,1040.1 L821.9,1054.8 L812.7,1069.1 L803.7,1083.0 L795.1,1096.5 L786.7,1109.6 L778.5,1122.4 L770.6,1134.8 L762.9,1146.9 L755.4,1158.7 L748.1,1170.2 L741.0,1181.4 L734.1,1192.4 L727.3,1203.1 M988.9,940.2 L977.4,958.4 L966.3,975.9 L955.7,992.8 L945.4,1009.1 L935.6,1024.8 L926.0,1040.1 L916.8,1054.8 L908.0,1069.1 L899.4,1083.0 L891.0,1096.5 L882.9,1109.6 L875.1,1122.4 L867.5,1134.8 L860.1,1146.9 L852.9,1158.7 L845.9,1170.2 L839.0,1181.4 L832.4,1192.4 L825.9,1203.1 M1071.7,940.2 L1060.6,958.4 L1049.9,975.9 L1039.6,992.8 L1029.7,1009.1 L1020.2,1024.8 L1011.0,1040.1 L1002.1,1054.8 L993.6,1069.1 L985.3,1083.0 L977.2,1096.5 L969.5,1109.6 L961.9,1122.4 L954.6,1134.8 L947.5,1146.9 L940.5,1158.7 L933.8,1170.2 L927.2,1181.4 L920.8,1192.4 L914.6,1203.1 M1132.1,940.2 L1121.3,958.4 L1110.9,975.9 L1100.9,992.8 L1091.2,1009.1 L1082.0,1024.8 L1073.0,1040.1 L1064.4,1054.8 L1056.1,1069.1 L1048.0,1083.0 L1040.2,1096.5 L1032.7,1109.6 L1025.3,1122.4 L1018.2,1134.8 L1011.3,1146.9 L1004.6,1158.7 L998.0,1170.2 L991.7,1181.4 L985.5,1192.4 L979.4,1203.1" fill="none" stroke="#008000" stroke-opacity="0.45" stroke-width="0.8" stroke-dasharray="3 2"/>
<path d="M-1082.8,1203.3 L102.8,98.3 M-948.4,1203.3 L237.3,98.3 M-813.9,1203.3 L371.8,98.3 M-679.4,1203.3 L506.2,98.3 M-545.0,1203.3 L640.7,98.3 M-410.5,1203.3 L775.1,98.3 M-276.1,1203.3 L909.6,98.3 M-141.6,1203.3 L1044.1,98.3 M-7.1,1203.3 L1178.5,98.3 M127.3,1203.3 L1313.0,98.3 M261.8,1203.3 L1447.4,98.3 M396.2,1203.3 L1581.9,98.3 M530.7,1203.3 L1716.4,98.3 M665.2,1203.3 L1850.8,98.3 M799.6,1203.3 L1985.3,98.3 M934.1,1203.3 L2119.7,98.3 M1068.5,1203.3 L2254.2,98.3 M1203.0,1203.3 L2388.7,98.3" stroke="#808080" stroke-width="1.1" fill="none"/>
<path d="M31.3,424.1 L1301.4,424.1 M31.3,614.6 L1301.4,614.6 M31.3,749.7 L1301.4,749.7 M31.3,854.6 L1301.4,854.6 M31.3,940.2 L1301.4,940.2 M31.3,1012.6 L1301.4,1012.6 M31.3,1075.4 L1301.4,1075.4 M31.3,1130.7 L1301.4,1130.7 M31.3,1180.2 L1301.4,1180.2" stroke="#9a9a9a" stroke-width="1.3" fill="none"/>
<line x1="530.7" y1="1203.3" x2="1716.4" y2="98.3" stroke="#3333cc" stroke-width="2" stroke-opacity="0.6" stroke-dasharray="7 4"/>
<line x1="261.8" y1="1203.3" x2="1447.4" y2="98.3" stroke="#3333cc" stroke-width="2" stroke-opacity="0.6" stroke-dasharray="7 4"/>
<polyline points="346.1,96.0 349.0,105.3 352.1,114.6 355.2,123.9 358.3,133.3 361.6,142.6 364.9,151.9 368.2,161.2 371.7,170.5 375.2,179.8 378.9,189.1 382.5,198.5 386.3,207.8 390.1,217.1 394.1,226.4 398.1,235.7 402.1,245.0 406.3,254.3 410.5,263.7 414.8,273.0 419.2,282.3 423.7,291.6 428.2,300.9 432.8,310.2 437.5,319.6 442.3,328.9 447.1,338.2 452.1,347.5 457.1,356.8 462.2,366.1 467.3,375.4 472.5,384.8 477.8,394.1 483.1,403.4 488.5,412.7 493.9,422.0 499.5,431.3 505.1,440.6 510.7,450.0 516.4,459.3 522.2,468.6 528.1,477.9 534.0,487.2 539.9,496.5 545.9,505.8 552.0,515.2 558.1,524.5 564.2,533.8 570.4,543.1 576.6,552.4 582.8,561.7 589.0,571.0 595.3,580.4 601.5,589.7 607.8,599.0 614.0,608.3 620.2,617.6 626.4,626.9 632.5,636.2 638.6,645.6 644.7,654.9 650.9,664.2 657.4,673.5 663.8,682.8 670.1,692.1 676.3,701.4 682.4,710.8 688.4,720.1 694.2,729.4 699.9,738.7 705.5,748.0 710.9,757.3 716.2,766.7 721.3,776.0 726.3,785.3 731.1,794.6 735.8,803.9 740.2,813.2 744.6,822.5 748.7,831.9 752.7,841.2 756.5,850.5 760.2,859.8 763.7,869.1 767.1,878.4 770.3,887.7 773.3,897.1 776.2,906.4 779.0,915.7 781.6,925.0 782.7,930.0 788.5,951.2 795.4,980.8 801.7,1010.4 808.1,1042.2 813.4,1067.6 815.1,1080.0 816.7,1095.7 818.3,1102.0 821.4,1125.9 823.9,1137.8 825.5,1152.0 835.2,1166.1" fill="none" stroke="#b9b9b9" stroke-width="2.7" stroke-dasharray="9.6 4.2" stroke-linecap="butt"/>
<polyline points="359.3,96.0 362.5,105.3 365.6,114.6 368.9,123.9 372.2,133.3 375.6,142.6 379.0,151.9 382.6,161.2 386.2,170.5 389.9,179.8 393.7,189.1 397.5,198.5 401.4,207.8 405.4,217.1 409.5,226.4 413.7,235.7 417.9,245.0 422.2,254.3 426.6,263.7 431.1,273.0 435.7,282.3 440.3,291.6 445.0,300.9 449.8,310.2 454.7,319.6 459.7,328.9 464.7,338.2 469.8,347.5 475.0,356.8 480.2,366.1 485.6,375.4 490.9,384.8 496.1,394.1 501.3,403.4 506.7,412.7 512.1,422.0 517.6,431.3 523.1,440.6 528.7,450.0 534.4,459.3 540.1,468.6 545.9,477.9 551.7,487.2 557.6,496.5 563.6,505.8 569.5,515.2 575.5,524.5 581.6,533.8 587.6,543.1 593.7,552.4 599.8,561.7 605.9,571.0 612.0,580.4 618.1,589.7 624.2,599.0 630.2,608.3 636.3,617.6 642.3,626.9 648.2,636.2 654.1,645.6 660.0,654.9 666.0,664.2 672.4,673.5 678.7,682.8 684.9,692.1 691.0,701.4 696.9,710.8 702.8,720.1 708.5,729.4 714.0,738.7 719.4,748.0 724.7,757.3 729.8,766.7 734.7,776.0 739.5,785.3 744.1,794.6 748.5,803.9 752.8,813.2 756.9,822.5 760.9,831.9 764.7,841.2 768.3,850.5 771.8,859.8 775.1,869.1 778.3,878.4 781.3,887.7 784.2,897.1 786.9,906.4 789.5,915.7 791.9,925.0 792.8,930.0 799.6,956.5 806.5,985.0 812.3,1014.7 817.1,1042.2 821.9,1067.6 823.6,1081.3 825.8,1095.7 827.7,1111.4 830.2,1127.1 832.1,1139.7 840.3,1151.0 859.1,1165.5" fill="none" stroke="#b9b9b9" stroke-width="2.7" stroke-dasharray="9.6 4.2" stroke-linecap="butt"/>
<polyline points="423.2,96.0 426.6,105.3 430.0,114.6 433.5,123.9 437.1,133.3 440.8,142.6 444.5,151.9 448.3,161.2 452.2,170.5 456.2,179.8 460.2,189.1 464.4,198.5 468.6,207.8 472.8,217.1 477.2,226.4 481.6,235.7 486.1,245.0 490.7,254.3 495.4,263.7 500.1,273.0 505.0,282.3 509.9,291.6 514.8,300.9 519.9,310.2 525.0,319.6 530.2,328.9 535.5,338.2 540.8,347.5 546.3,356.8 551.8,366.1 557.3,375.4 562.9,384.8 568.5,394.1 574.1,403.4 579.8,412.7 585.5,422.0 591.3,431.3 597.1,440.6 603.0,450.0 609.0,459.3 614.9,468.6 620.9,477.9 627.0,487.2 633.0,496.5 639.1,505.8 645.2,515.2 651.2,524.5 657.3,533.8 663.4,543.1 669.4,552.4 675.4,561.7 681.4,571.0 687.3,580.4 693.2,589.7 699.0,599.0 704.8,608.3 710.5,617.6 716.0,626.9 721.5,636.2 726.9,645.6 732.2,654.9 737.4,664.2 743.3,673.5 749.2,682.8 754.9,692.1 760.5,701.4 765.8,710.8 771.1,720.1 776.1,729.4 781.0,738.7 785.7,748.0 790.2,757.3 794.5,766.7 798.7,776.0 802.7,785.3 806.5,794.6 810.2,803.9 813.6,813.2 817.0,822.5 820.1,831.9 823.1,841.2 825.9,850.5 828.6,859.8 831.2,869.1 833.6,878.4 835.8,887.7 837.9,897.1 839.9,906.4 841.7,915.7 843.5,925.0 844.1,930.0 848.8,951.2 853.6,976.6 856.8,1004.1 860.0,1035.8 862.6,1062.3 864.2,1088.7 867.3,1105.1 869.2,1124.0 870.4,1129.0 883.0,1138.2" fill="none" stroke="#b9b9b9" stroke-width="2.7" stroke-dasharray="9.6 4.2" stroke-linecap="butt"/>
<polyline points="435.1,96.0 436.6,104.1 439.2,112.2 441.8,120.3 444.6,128.5 447.3,136.6 450.2,144.7 453.1,152.8 456.0,160.9 459.0,169.0 462.0,177.2 465.1,185.3 468.1,193.4 471.1,201.5 474.1,209.6 477.2,217.7 480.3,225.8 483.5,234.0 486.7,242.1 490.0,250.2 493.5,258.3 497.8,266.4 502.1,274.5 506.5,282.7 511.0,290.8 515.5,298.9 520.0,307.0 524.7,315.1 529.4,323.2 534.1,331.3 538.9,339.5 543.7,347.6 548.6,355.7 553.5,363.8 558.5,371.9 563.5,380.0 568.0,388.2 572.5,396.3 577.0,404.4 581.6,412.5 586.3,420.6 591.6,428.7 596.9,436.8 602.3,445.0 607.7,453.1 613.1,461.2 618.5,469.3 624.0,477.4 629.5,485.5 635.0,493.7 640.5,501.8 646.3,509.9 652.1,518.0 657.8,526.1 663.6,534.2 669.4,542.3 675.1,550.5 680.9,558.6 686.4,566.7 691.3,574.8 696.3,582.9 701.1,591.0 705.9,599.2 710.7,607.3 715.4,615.4 720.0,623.5 724.6,631.6 729.1,639.7 733.5,647.8 737.9,656.0 742.2,664.1 746.4,672.2 750.5,680.3 754.6,688.4 758.6,696.5 762.4,704.7 766.2,712.8 769.8,720.9 773.2,729.0 776.5,737.1 779.7,745.2 782.7,753.3 785.7,761.5 788.6,769.6 791.3,777.7 794.0,785.8 796.5,793.9 798.9,802.0 801.3,810.2 803.6,818.3 806.6,826.4 809.5,834.5 812.2,842.6 814.8,850.7 817.3,858.8 819.7,867.0 821.9,875.1 824.1,883.2 826.1,891.3 828.1,899.4 829.9,907.5 831.7,915.7 833.5,923.8 835.1,931.9 836.7,940.0 837.6,945.0 846.0,984.0 851.0,995.0 854.0,1013.0 857.0,1034.0 860.8,1055.6 862.4,1067.6 864.7,1088.7 866.5,1105.0 869.0,1124.0 870.4,1129.7 883.0,1138.2" fill="none" stroke="#ff0000" stroke-width="4.2" stroke-dasharray="15.5 6.7" stroke-linecap="butt"/>
<polyline points="733.9,943.9 748.0,1000.0 758.0,1040.0 764.0,1080.0 768.5,1120.0 770.9,1165.3" fill="none" stroke="#800080" stroke-width="1.3" stroke-dasharray="4 2.5" stroke-opacity="0.9"/>
<polyline points="869.0,100.5 739.2,209.6 629.3,251.9 602.7,285.2 591.0,375.0 583.0,421.0 630.4,508.0 630.4,526.6 623.5,537.0 666.3,613.4 684.8,655.0 691.8,672.4 703.3,721.0 697.6,747.6 701.0,789.2 696.4,814.7 706.8,851.7 733.4,880.6 730.6,924.6 733.9,943.9 750.0,980.5 760.7,987.7 782.1,991.3 791.1,1011.8 783.9,1020.7 759.8,1025.2 801.8,1040.4 779.5,1056.4 811.6,1080.0 836.7,1095.9 834.1,1103.1 837.4,1137.5 820.0,1146.0 806.0,1152.0 802.0,1166.0" fill="none" stroke="#80b3fa" stroke-width="2.6" stroke-linejoin="round"/>
<polyline points="549.0,97.0 534.4,101.9 458.0,209.6 440.7,251.9 387.4,284.8 404.8,332.2 419.8,375.0 433.7,417.8 454.6,423.1 380.5,508.8 381.7,527.7 374.3,537.5 490.4,612.2 539.0,655.0 562.2,671.2 603.8,719.8 541.3,748.7 378.2,789.2 488.1,814.7 497.4,850.6 625.8,880.6 482.3,925.8 534.4,945.0 600.0,971.6 617.0,978.8 737.5,989.5 749.1,1011.8 728.6,1020.7 676.8,1025.2 775.9,1040.4 743.8,1056.4 826.1,1095.2 832.1,1136.9 806.3,1148.1 781.2,1153.4 795.7,1167.3" fill="none" stroke="#6495ed" stroke-width="6.2" stroke-linejoin="miter" stroke-miterlimit="3"/>
<polyline points="869.0,100.5 739.2,209.6 629.3,251.9 602.7,285.2 591.0,375.0 583.0,417.8 635.1,509.2 637.4,526.6 629.3,537.0 679.0,613.4 700.0,655.0 710.3,672.4 725.3,719.8 728.8,748.7 754.3,789.2 743.8,814.7 768.1,854.0 785.5,880.6 830.6,923.5 834.0,940.0 843.8,979.6 830.4,990.4 850.0,1020.7 840.2,1026.1 839.3,1041.3 825.0,1056.4 859.2,1095.2 850.0,1103.8 850.0,1138.2 799.7,1153.4 808.9,1167.3" fill="none" stroke="#ff0000" stroke-width="6.0" stroke-linejoin="miter" stroke-miterlimit="3"/>
<polyline points="835.5,940.0 844.6,952.9 849.1,986.8 862.5,1022.5 853.6,1042.1 839.3,1058.2 865.8,1081.3 875.7,1087.3 884.3,1095.2 878.4,1101.8 879.0,1113.1 879.7,1124.3 881.7,1134.9 874.4,1140.8 864.5,1144.8 853.9,1148.1 843.3,1150.8 832.1,1152.8 824.2,1154.7 826.1,1158.0 834.7,1164.0" fill="none" stroke="#a03a3a" stroke-width="4.4" stroke-dasharray="4.6 5.4" stroke-opacity="0.85"/>
<text x="350.3" y="414.8" font-size="20.08" fill="#3f9f3f" textLength="42.1" lengthAdjust="spacingAndGlyphs" >22%</text>
<path d="M1616 687V597L1223 204L1103 324L1336 557H117V727H1336L1103 960L1223 1080Z" fill="#3f9f3f" transform="translate(398.42,414.80) scale(0.00925,-0.00925)"/>
<text x="420.9" y="627.3" font-size="20.08" fill="#3f9f3f" textLength="42.1" lengthAdjust="spacingAndGlyphs" >24%</text>
<path d="M1616 687V597L1223 204L1103 324L1336 557H117V727H1336L1103 960L1223 1080Z" fill="#3f9f3f" transform="translate(469.02,627.30) scale(0.00925,-0.00925)"/>
<text x="401.5" y="820.5" font-size="20.08" fill="#3f9f3f" textLength="42.1" lengthAdjust="spacingAndGlyphs" >18%</text>
<path d="M1616 687V597L1223 204L1103 324L1336 557H117V727H1336L1103 960L1223 1080Z" fill="#3f9f3f" transform="translate(449.66,820.50) scale(0.00925,-0.00925)"/>
<text x="653.2" y="998.4" font-size="20.08" fill="#3f9f3f" textLength="42.1" lengthAdjust="spacingAndGlyphs" >60%</text>
<path d="M1616 687V597L1223 204L1103 324L1336 557H117V727H1336L1103 960L1223 1080Z" fill="#3f9f3f" transform="translate(701.32,998.40) scale(0.00925,-0.00925)"/>
<text x="739.8" y="1110.0" font-size="20.08" fill="#3f9f3f" textLength="42.1" lengthAdjust="spacingAndGlyphs" >89%</text>
<path d="M1616 687V597L1223 204L1103 324L1336 557H117V727H1336L1103 960L1223 1080Z" fill="#3f9f3f" transform="translate(787.91,1110.00) scale(0.00925,-0.00925)"/>
<path d="M100 597V687L493 1080L613 960L380 727H1599V557H380L613 324L493 204Z" fill="#f04848" transform="translate(628.36,406.70) scale(0.00920,-0.00920)"/>
<text x="644.2" y="406.7" font-size="19.97" fill="#f04848" textLength="70.8" lengthAdjust="spacingAndGlyphs" >793J/kg</text>
<path d="M100 597V687L493 1080L613 960L380 727H1599V557H380L613 324L493 204Z" fill="#f04848" transform="translate(919.86,820.70) scale(0.00920,-0.00920)"/>
<text x="935.7" y="820.7" font-size="19.97" fill="#f04848" textLength="70.8" lengthAdjust="spacingAndGlyphs" >256J/kg</text>
<path d="M100 597V687L493 1080L613 960L380 727H1599V557H380L613 324L493 204Z" fill="#f04848" transform="translate(953.66,999.00) scale(0.00920,-0.00920)"/>
<text x="969.5" y="999.0" font-size="19.97" fill="#f04848" textLength="58.8" lengthAdjust="spacingAndGlyphs" >27J/kg</text>
<path d="M100 572V712L493 1105L638 960L440 762H1599V522H440L638 324L493 179Z" fill="#808080" transform="translate(1071.75,235.50) scale(0.01021,-0.01021)"/>
<text x="1089.3" y="235.5" font-size="22.15" font-weight="bold" fill="#808080" textLength="87.2" lengthAdjust="spacingAndGlyphs" >MUMPL</text>
<path d="M100 572V712L493 1105L638 960L440 762H1599V522H440L638 324L493 179Z" fill="#808080" transform="translate(1071.75,406.30) scale(0.01021,-0.01021)"/>
<text x="1089.3" y="406.3" font-size="22.15" font-weight="bold" fill="#808080" textLength="65.4" lengthAdjust="spacingAndGlyphs" >MUEL</text>
<path d="M100 572V712L493 1105L638 960L440 762H1599V522H440L638 324L493 179Z" fill="#808080" transform="translate(1071.55,1011.30) scale(0.01021,-0.01021)"/>
<text x="1089.1" y="1011.3" font-size="22.15" font-weight="bold" fill="#808080" textLength="80.7" lengthAdjust="spacingAndGlyphs" >MULFC</text>
<path d="M100 572V712L493 1105L638 960L440 762H1599V522H440L638 324L493 179Z" fill="#808080" transform="translate(1071.55,1158.20) scale(0.01021,-0.01021)"/>
<text x="1089.1" y="1158.2" font-size="22.15" font-weight="bold" fill="#808080" textLength="73.0" lengthAdjust="spacingAndGlyphs" >SBLCL</text>
<path d="M100 572V712L493 1105L638 960L440 762H1599V522H440L638 324L493 179Z" fill="#808080" transform="translate(1022.33,1151.40) scale(0.00654,-0.00654)"/>
<text x="1033.6" y="1151.4" font-size="14.20" font-weight="bold" fill="#808080" textLength="28.6" lengthAdjust="spacingAndGlyphs" >PBL</text>
<path d="M100 572V712L493 1105L638 960L440 762H1599V522H440L638 324L493 179Z" fill="#92b4f2" transform="translate(1002.37,922.10) scale(0.00811,-0.00811)"/>
<text x="1016.3" y="922.1" font-size="17.59" font-weight="bold" fill="#92b4f2" textLength="36.2" lengthAdjust="spacingAndGlyphs" >FRZ</text>
<path d="M100 572V712L493 1105L638 960L440 762H1599V522H440L638 324L493 179Z" fill="#92b4f2" transform="translate(1002.37,986.20) scale(0.00811,-0.00811)"/>
<text x="1016.3" y="986.2" font-size="17.59" font-weight="bold" fill="#92b4f2" textLength="42.5" lengthAdjust="spacingAndGlyphs" >WB0</text>
<line x1="1122.8" y1="402.0" x2="1122.8" y2="1011.0" stroke="#c8c8c8" stroke-width="2" stroke-dasharray="2 3.5"/>
<line x1="1122.8" y1="1011.0" x2="1122.8" y2="1166.0" stroke="#606060" stroke-width="2" stroke-dasharray="2 3.5"/>
<line x1="1046.8" y1="1153.0" x2="1046.8" y2="1166.0" stroke="#606060" stroke-width="2" stroke-dasharray="2 3.5"/>
<text x="90.5" y="338.8" font-size="16.42" font-weight="bold" fill="#5a5a5a" textLength="48.0" lengthAdjust="spacingAndGlyphs" >13km</text>
<text x="91.4" y="628.0" font-size="16.42" font-weight="bold" fill="#5a5a5a" textLength="37.2" lengthAdjust="spacingAndGlyphs" >9km</text>
<text x="91.2" y="758.1" font-size="16.42" font-weight="bold" fill="#5a5a5a" textLength="37.2" lengthAdjust="spacingAndGlyphs" >7km</text>
<text x="91.0" y="881.7" font-size="16.42" font-weight="bold" fill="#5a5a5a" textLength="37.2" lengthAdjust="spacingAndGlyphs" >5km</text>
<text x="91.2" y="998.4" font-size="16.42" font-weight="bold" fill="#5a5a5a" textLength="37.2" lengthAdjust="spacingAndGlyphs" >3km</text>
<text x="90.5" y="1110.1" font-size="16.42" font-weight="bold" fill="#5a5a5a" textLength="37.2" lengthAdjust="spacingAndGlyphs" >1km</text>
<text x="91.3" y="1165.3" font-size="16.42" font-weight="bold" fill="#5a5a5a" textLength="119.5" lengthAdjust="spacingAndGlyphs" >-SFC (362m) -</text>
<text x="174.4" y="652.6" font-size="18.91" font-weight="bold" fill="#5aa95a" textLength="42.5" lengthAdjust="spacingAndGlyphs" >HGZ</text>
<line x1="196.0" y1="662.7" x2="196.0" y2="856.2" stroke="#8cc48c" stroke-width="4.2" />
<text x="214.4" y="812.8" font-size="18.91" font-weight="bold" fill="#c87474" textLength="31.6" lengthAdjust="spacingAndGlyphs" >8.1</text>
<line x1="233.6" y1="818.5" x2="233.6" y2="940.0" stroke="#dfb3b3" stroke-width="3.8" />
<text x="256.1" y="1079.6" font-size="18.91" font-weight="bold" fill="#add8e6" textLength="30.2" lengthAdjust="spacingAndGlyphs" >EIL</text>
<line x1="271.8" y1="1082.4" x2="271.8" y2="1144.6" stroke="#cde6ee" stroke-width="3.8" />
<text x="750.8" y="1185.9" font-size="17.91" font-weight="bold" fill="#8fb0f0" textLength="43.5" lengthAdjust="spacingAndGlyphs" >61°F</text>
<text x="807.9" y="1185.9" font-size="17.91" font-weight="bold" fill="#f05a5a" textLength="43.5" lengthAdjust="spacingAndGlyphs" >63°F</text>
<line x1="1244.5" y1="153.4" x2="1244.5" y2="1203.0" stroke="#000" stroke-width="1" />
<path d="M1244.5,210.0 L1206.3,231.9 L1202.3,213.9 L1215.9,226.4 L1220.6,223.7 L1207.1,211.2 L1220.6,223.7 L1225.4,220.9 L1211.9,208.4 L1225.4,220.9 L1230.2,218.2 L1216.7,205.7 L1230.2,218.2 L1235.0,215.5 L1228.2,209.2 L1235.0,215.5 Z" fill="#000" stroke="#000" stroke-width="1.0" stroke-linejoin="miter"/>
<path d="M1244.5,252.5 L1202.9,266.8 L1202.4,248.4 L1213.3,263.3 L1218.5,261.5 L1207.6,246.6 L1218.5,261.5 L1223.7,259.7 L1212.8,244.8 L1223.7,259.7 L1228.9,257.9 L1218.0,243.0 L1228.9,257.9 L1234.1,256.1 L1228.6,248.7 L1234.1,256.1 Z" fill="#000" stroke="#000" stroke-width="1.0" stroke-linejoin="miter"/>
<path d="M1244.5,285.8 L1201.0,292.1 L1203.9,273.9 L1211.8,290.6 L1217.3,289.8 L1209.3,273.1 L1217.3,289.8 L1222.7,289.0 L1214.8,272.3 L1222.7,289.0 L1228.2,288.2 L1220.2,271.6 L1228.2,288.2 Z" fill="#000" stroke="#000" stroke-width="1.0" stroke-linejoin="miter"/>
<path d="M1244.5,332.5 L1201.8,343.3 L1202.9,324.9 L1212.5,340.6 L1217.8,339.2 L1208.2,323.5 L1217.8,339.2 L1223.2,337.9 L1213.5,322.2 L1223.2,337.9 L1228.5,336.5 L1218.9,320.8 L1228.5,336.5 L1233.8,335.2 L1224.2,319.5 L1233.8,335.2 Z" fill="#000" stroke="#000" stroke-width="1.0" stroke-linejoin="miter"/>
<path d="M1244.5,402.0 L1201.4,410.6 L1203.3,392.3 L1212.1,408.5 L1217.5,407.4 L1208.7,391.2 L1217.5,407.4 L1222.9,406.3 L1214.1,390.1 L1222.9,406.3 L1228.3,405.2 L1219.5,389.1 L1228.3,405.2 L1233.7,404.2 L1229.3,396.1 L1233.7,404.2 Z" fill="#000" stroke="#000" stroke-width="1.0" stroke-linejoin="miter"/>
<path d="M1244.5,418.6 L1200.7,422.8 L1204.5,404.8 L1211.7,421.8 L1217.1,421.2 L1210.0,404.3 L1217.1,421.2 L1222.6,420.7 L1215.4,403.7 L1222.6,420.7 L1228.1,420.2 L1220.9,403.2 L1228.1,420.2 Z" fill="#000" stroke="#000" stroke-width="1.0" stroke-linejoin="miter"/>
<path d="M1244.5,423.3 L1200.6,426.7 L1204.8,408.7 L1211.6,425.8 L1217.1,425.4 L1210.2,408.3 L1217.1,425.4 L1222.6,425.0 L1215.7,407.9 L1222.6,425.0 L1228.0,424.6 L1221.2,407.5 L1228.0,424.6 Z" fill="#000" stroke="#000" stroke-width="1.0" stroke-linejoin="miter"/>
<path d="M1244.5,492.0 L1200.6,488.7 L1207.4,471.5 L1211.6,489.5 L1217.1,489.9 L1212.9,472.0 L1217.1,489.9 L1222.6,490.3 L1218.4,472.4 L1222.6,490.3 L1228.0,490.8 L1223.9,472.8 L1228.0,490.8 L1233.5,491.2 L1231.5,482.2 L1233.5,491.2 Z" fill="#000" stroke="#000" stroke-width="1.0" stroke-linejoin="miter"/>
<path d="M1244.5,508.9 L1200.7,505.0 L1207.7,488.0 L1211.6,506.0 L1217.1,506.5 L1213.2,488.5 L1217.1,506.5 L1222.6,507.0 L1218.7,488.9 L1222.6,507.0 L1228.1,507.4 L1224.1,489.4 L1228.1,507.4 L1233.5,507.9 L1231.6,498.9 L1233.5,507.9 Z" fill="#000" stroke="#000" stroke-width="1.0" stroke-linejoin="miter"/>
<path d="M1244.5,556.7 L1201.8,567.5 L1202.9,549.1 L1212.5,564.8 L1217.8,563.4 L1208.2,547.7 L1217.8,563.4 L1223.2,562.1 L1213.5,546.4 L1223.2,562.1 L1228.5,560.7 L1218.9,545.0 L1228.5,560.7 L1233.8,559.4 L1229.0,551.5 L1233.8,559.4 Z" fill="#000" stroke="#000" stroke-width="1.0" stroke-linejoin="miter"/>
<path d="M1244.5,614.2 L1202.9,628.6 L1202.4,610.2 L1213.3,625.0 L1218.5,623.2 L1207.6,608.4 L1218.5,623.2 L1223.7,621.4 L1212.8,606.6 L1223.7,621.4 L1228.9,619.6 L1218.0,604.8 L1228.9,619.6 L1234.1,617.8 L1228.6,610.4 L1234.1,617.8 Z" fill="#000" stroke="#000" stroke-width="1.0" stroke-linejoin="miter"/>
<path d="M1244.5,640.6 L1203.8,657.4 L1202.2,639.0 L1214.0,653.2 L1219.1,651.1 L1207.3,636.9 L1219.1,651.1 L1224.2,649.0 L1212.4,634.8 L1224.2,649.0 L1229.2,646.9 L1217.5,632.7 L1229.2,646.9 Z" fill="#000" stroke="#000" stroke-width="1.0" stroke-linejoin="miter"/>
<path d="M1244.5,671.4 L1202.8,685.6 L1202.4,667.1 L1213.3,682.0 L1218.5,680.2 L1207.6,665.4 L1218.5,680.2 L1223.7,678.5 L1212.8,663.6 L1223.7,678.5 L1228.9,676.7 L1223.4,669.3 L1228.9,676.7 Z" fill="#000" stroke="#000" stroke-width="1.0" stroke-linejoin="miter"/>
<path d="M1244.5,720.0 L1201.7,730.3 L1202.9,711.9 L1212.4,727.8 L1217.8,726.5 L1208.3,710.6 L1217.8,726.5 Z" fill="#000" stroke="#000" stroke-width="1.0" stroke-linejoin="miter"/>
<path d="M1244.5,749.2 L1204.0,766.4 L1202.2,748.1 L1214.1,762.1 L1219.2,760.0 L1207.2,745.9 L1219.2,760.0 L1224.3,757.8 L1212.3,743.8 L1224.3,757.8 Z" fill="#000" stroke="#000" stroke-width="1.0" stroke-linejoin="miter"/>
<path d="M1244.5,789.4 L1207.7,813.5 L1202.6,795.7 L1216.9,807.5 L1221.5,804.5 L1214.4,798.6 L1221.5,804.5 Z" fill="#000" stroke="#000" stroke-width="1.0" stroke-linejoin="miter"/>
<path d="M1244.5,815.0 L1210.4,842.8 L1203.5,825.6 L1218.9,835.8 L1223.2,832.3 L1215.5,827.3 L1223.2,832.3 Z" fill="#000" stroke="#000" stroke-width="1.0" stroke-linejoin="miter"/>
<path d="M1244.5,851.1 L1213.7,882.5 L1197.3,874.1 L1213.7,882.5 L1217.5,878.6 L1201.1,870.2 L1217.5,878.6 L1221.4,874.6 L1205.0,866.2 L1221.4,874.6 L1225.2,870.7 L1208.8,862.3 L1225.2,870.7 L1229.1,866.8 L1220.9,862.6 L1229.1,866.8 Z" fill="#000" stroke="#000" stroke-width="1.0" stroke-linejoin="miter"/>
<path d="M1244.5,880.6 L1213.5,911.9 L1197.2,903.4 L1213.5,911.9 L1217.4,907.9 L1201.0,899.5 L1217.4,907.9 L1221.3,904.0 L1204.9,895.6 L1221.3,904.0 L1225.1,900.1 L1208.8,891.7 L1225.1,900.1 L1229.0,896.2 L1220.8,892.0 L1229.0,896.2 Z" fill="#000" stroke="#000" stroke-width="1.0" stroke-linejoin="miter"/>
<path d="M1244.5,908.9 L1214.0,940.6 L1197.5,932.3 L1214.0,940.6 L1217.8,936.6 L1201.3,928.4 L1217.8,936.6 L1221.6,932.7 L1205.1,924.4 L1221.6,932.7 L1225.4,928.7 L1208.9,920.4 L1225.4,928.7 L1229.2,924.7 L1221.0,920.6 L1229.2,924.7 Z" fill="#000" stroke="#000" stroke-width="1.0" stroke-linejoin="miter"/>
<path d="M1244.5,944.4 L1225.6,984.1 L1207.4,981.6 L1225.6,984.1 L1228.0,979.2 L1209.7,976.6 L1228.0,979.2 L1230.3,974.2 L1212.1,971.6 L1230.3,974.2 L1232.7,969.2 L1214.4,966.7 L1232.7,969.2 Z" fill="#000" stroke="#000" stroke-width="1.0" stroke-linejoin="miter"/>
<path d="M1244.5,980.0 L1233.8,1022.7 L1215.4,1023.7 L1233.8,1022.7 L1235.1,1017.3 L1216.7,1018.4 L1235.1,1017.3 L1236.5,1012.0 L1218.1,1013.1 L1236.5,1012.0 L1237.8,1006.7 L1228.6,1007.2 L1237.8,1006.7 Z" fill="#000" stroke="#000" stroke-width="1.0" stroke-linejoin="miter"/>
<path d="M1244.5,1015.2 L1241.3,1059.1 L1223.4,1063.3 L1241.3,1059.1 L1241.7,1053.6 L1223.8,1057.8 L1241.7,1053.6 L1242.1,1048.1 L1224.2,1052.3 L1242.1,1048.1 L1242.5,1042.6 L1224.6,1046.8 L1242.5,1042.6 Z" fill="#000" stroke="#000" stroke-width="1.0" stroke-linejoin="miter"/>
<path d="M1244.5,1049.5 L1241.2,1093.4 L1223.3,1097.6 L1241.2,1093.4 L1241.6,1087.9 L1223.7,1092.1 L1241.6,1087.9 L1242.0,1082.4 L1224.1,1086.6 L1242.0,1082.4 L1242.5,1076.9 L1224.5,1081.1 L1242.5,1076.9 L1242.9,1071.4 L1233.9,1073.5 L1242.9,1071.4 Z" fill="#000" stroke="#000" stroke-width="1.0" stroke-linejoin="miter"/>
<path d="M1244.5,1084.0 L1247.5,1127.9 L1230.3,1134.6 L1247.5,1127.9 L1247.1,1122.4 L1229.9,1129.1 L1247.1,1122.4 L1246.7,1116.9 L1229.6,1123.6 L1246.7,1116.9 L1246.4,1111.4 L1229.2,1118.1 L1246.4,1111.4 L1246.0,1105.9 L1237.4,1109.3 L1246.0,1105.9 Z" fill="#000" stroke="#000" stroke-width="1.0" stroke-linejoin="miter"/>
<path d="M1244.5,1116.6 L1248.5,1160.4 L1231.5,1167.5 L1248.5,1160.4 L1248.0,1154.9 L1231.0,1162.0 L1248.0,1154.9 L1247.5,1149.5 L1230.5,1156.5 L1247.5,1149.5 L1247.0,1144.0 L1230.0,1151.1 L1247.0,1144.0 L1246.5,1138.5 L1238.0,1142.0 L1246.5,1138.5 Z" fill="#000" stroke="#000" stroke-width="1.0" stroke-linejoin="miter"/>
<path d="M1244.5,1143.0 L1252.4,1186.3 L1236.0,1194.8 L1252.4,1186.3 L1251.4,1180.9 L1235.1,1189.4 L1251.4,1180.9 L1250.4,1175.5 L1234.1,1184.0 L1250.4,1175.5 L1249.4,1170.1 L1233.1,1178.6 L1249.4,1170.1 L1248.4,1164.6 L1240.3,1168.9 L1248.4,1164.6 Z" fill="#000" stroke="#000" stroke-width="1.0" stroke-linejoin="miter"/>
<path d="M1244.5,1164.7 L1272.5,1198.7 L1267.2,1192.3 L1262.2,1200.0 L1267.2,1192.3 Z" fill="#000" stroke="#000" stroke-width="1.0" stroke-linejoin="miter"/>
<circle cx="1244.5" cy="210" r="3.4" fill="#000"/>
<circle cx="1244.5" cy="252.5" r="3.4" fill="#000"/>
<circle cx="1244.5" cy="285.8" r="3.4" fill="#000"/>
<circle cx="1244.5" cy="332.5" r="3.4" fill="#000"/>
<circle cx="1244.5" cy="402" r="3.4" fill="#000"/>
<circle cx="1244.5" cy="418.6" r="3.4" fill="#000"/>
<circle cx="1244.5" cy="423.3" r="3.4" fill="#000"/>
<circle cx="1244.5" cy="492" r="3.4" fill="#000"/>
<circle cx="1244.5" cy="508.9" r="3.4" fill="#000"/>
<circle cx="1244.5" cy="556.7" r="3.4" fill="#000"/>
<circle cx="1244.5" cy="614.2" r="3.4" fill="#000"/>
<circle cx="1244.5" cy="640.6" r="3.4" fill="#000"/>
<circle cx="1244.5" cy="671.4" r="3.4" fill="#000"/>
<circle cx="1244.5" cy="720" r="3.4" fill="#000"/>
<circle cx="1244.5" cy="749.2" r="3.4" fill="#000"/>
<circle cx="1244.5" cy="789.4" r="3.4" fill="#000"/>
<circle cx="1244.5" cy="815" r="3.4" fill="#000"/>
<circle cx="1244.5" cy="851.1" r="3.4" fill="#000"/>
<circle cx="1244.5" cy="880.6" r="3.4" fill="#000"/>
<circle cx="1244.5" cy="908.9" r="3.4" fill="#000"/>
<circle cx="1244.5" cy="944.4" r="3.4" fill="#000"/>
<circle cx="1244.5" cy="980" r="3.4" fill="#000"/>
<circle cx="1244.5" cy="1015.2" r="3.4" fill="#000"/>
<circle cx="1244.5" cy="1049.5" r="3.4" fill="#000"/>
<circle cx="1244.5" cy="1084" r="3.4" fill="#000"/>
<circle cx="1244.5" cy="1116.6" r="3.4" fill="#000"/>
<circle cx="1244.5" cy="1143" r="3.4" fill="#000"/>
<circle cx="1244.5" cy="1164.7" r="3.4" fill="#000"/>
</g>
<rect x="37.7" y="105.4" width="178" height="191.4" rx="3" ry="3" fill="#ffffff" fill-opacity="0.8" stroke="#cccccc" stroke-width="1"/>
<line x1="43.0" y1="116.4" x2="73.0" y2="116.4" stroke="#80b3fa" stroke-width="2.5" />
<text x="82.2" y="121.3" font-size="14.73" fill="#000" textLength="110.1" lengthAdjust="spacingAndGlyphs" >WETBULB TEMP</text>
<line x1="43.0" y1="137.4" x2="73.0" y2="137.4" stroke="#a54545" stroke-width="4.5" stroke-dasharray="4.5 6"/>
<text x="82.6" y="142.3" font-size="14.73" fill="#000" textLength="100.2" lengthAdjust="spacingAndGlyphs" >VIRTUAL TEMP</text>
<line x1="42.0" y1="158.4" x2="75.0" y2="158.4" stroke="#6495ed" stroke-width="6.5" />
<text x="81.4" y="163.3" font-size="14.73" fill="#000" textLength="75.5" lengthAdjust="spacingAndGlyphs" >DEWPOINT</text>
<line x1="42.0" y1="179.4" x2="75.0" y2="179.4" stroke="#ff0000" stroke-width="6.5" />
<text x="82.8" y="184.3" font-size="14.73" fill="#000" textLength="101.1" lengthAdjust="spacingAndGlyphs" >TEMPERATURE</text>
<line x1="43.0" y1="200.4" x2="73.0" y2="200.4" stroke="#ff0000" stroke-width="3.5" stroke-dasharray="7 5"/>
<text x="81.4" y="205.3" font-size="14.73" fill="#000" textLength="123.9" lengthAdjust="spacingAndGlyphs" >MUECAPE PARCEL</text>
<line x1="43.0" y1="221.4" x2="73.0" y2="221.4" stroke="#b4b4b4" stroke-width="3" stroke-dasharray="7 5"/>
<text x="81.8" y="226.3" font-size="14.73" fill="#000" textLength="111.1" lengthAdjust="spacingAndGlyphs" >SBCAPE PARCEL</text>
<line x1="43.0" y1="242.4" x2="73.0" y2="242.4" stroke="#b4b4b4" stroke-width="3" stroke-dasharray="7 5"/>
<text x="81.4" y="247.3" font-size="14.73" fill="#000" textLength="112.7" lengthAdjust="spacingAndGlyphs" >MLCAPE PARCEL</text>
<line x1="43.0" y1="263.4" x2="73.0" y2="263.4" stroke="#b4b4b4" stroke-width="3" stroke-dasharray="7 5"/>
<text x="81.4" y="268.3" font-size="14.73" fill="#000" textLength="115.2" lengthAdjust="spacingAndGlyphs" >MUCAPE PARCEL</text>
<line x1="43.0" y1="284.4" x2="73.0" y2="284.4" stroke="#800080" stroke-width="1" stroke-dasharray="3 2"/>
<text x="81.4" y="289.3" font-size="14.73" fill="#000" textLength="128.1" lengthAdjust="spacingAndGlyphs" >DWNDRFT PARCEL</text>
<line x1="31.3" y1="424.1" x2="35.8" y2="424.1" stroke="#000" stroke-width="1.2" />
<text x="39.9" y="430.7" font-size="19.07" font-weight="bold" fill="#000" textLength="37.6" lengthAdjust="spacingAndGlyphs" >200</text>
<line x1="31.3" y1="614.6" x2="35.8" y2="614.6" stroke="#000" stroke-width="1.2" />
<text x="40.1" y="621.2" font-size="19.07" font-weight="bold" fill="#000" textLength="37.6" lengthAdjust="spacingAndGlyphs" >300</text>
<line x1="31.3" y1="749.7" x2="35.8" y2="749.7" stroke="#000" stroke-width="1.2" />
<text x="40.5" y="756.3" font-size="19.07" font-weight="bold" fill="#000" textLength="37.6" lengthAdjust="spacingAndGlyphs" >400</text>
<line x1="31.3" y1="854.6" x2="35.8" y2="854.6" stroke="#000" stroke-width="1.2" />
<text x="39.9" y="861.2" font-size="19.07" font-weight="bold" fill="#000" textLength="37.6" lengthAdjust="spacingAndGlyphs" >500</text>
<line x1="31.3" y1="940.2" x2="35.8" y2="940.2" stroke="#000" stroke-width="1.2" />
<text x="40.2" y="946.8" font-size="19.07" font-weight="bold" fill="#000" textLength="37.6" lengthAdjust="spacingAndGlyphs" >600</text>
<line x1="31.3" y1="1012.6" x2="35.8" y2="1012.6" stroke="#000" stroke-width="1.2" />
<text x="40.1" y="1019.2" font-size="19.07" font-weight="bold" fill="#000" textLength="37.6" lengthAdjust="spacingAndGlyphs" >700</text>
<line x1="31.3" y1="1075.4" x2="35.8" y2="1075.4" stroke="#000" stroke-width="1.2" />
<text x="40.2" y="1082.0" font-size="19.07" font-weight="bold" fill="#000" textLength="37.6" lengthAdjust="spacingAndGlyphs" >800</text>
<line x1="31.3" y1="1130.7" x2="35.8" y2="1130.7" stroke="#000" stroke-width="1.2" />
<text x="40.4" y="1137.3" font-size="19.07" font-weight="bold" fill="#000" textLength="37.6" lengthAdjust="spacingAndGlyphs" >900</text>
<line x1="31.3" y1="1180.2" x2="35.8" y2="1180.2" stroke="#000" stroke-width="1.2" />
<text x="39.3" y="1186.8" font-size="19.07" font-weight="bold" fill="#000" textLength="50.1" lengthAdjust="spacingAndGlyphs" >1000</text>
<line x1="127.3" y1="1203.3" x2="127.3" y2="1198.8" stroke="#000" stroke-width="1.2" />
<text x="107.3" y="1200.7" font-size="19.07" font-weight="bold" fill="#000" textLength="40.1" lengthAdjust="spacingAndGlyphs" >−30</text>
<line x1="261.8" y1="1203.3" x2="261.8" y2="1198.8" stroke="#000" stroke-width="1.2" />
<text x="241.8" y="1200.7" font-size="19.07" font-weight="bold" fill="#000" textLength="40.1" lengthAdjust="spacingAndGlyphs" >−20</text>
<line x1="396.2" y1="1203.3" x2="396.2" y2="1198.8" stroke="#000" stroke-width="1.2" />
<text x="376.2" y="1200.7" font-size="19.07" font-weight="bold" fill="#000" textLength="40.1" lengthAdjust="spacingAndGlyphs" >−10</text>
<line x1="530.7" y1="1203.3" x2="530.7" y2="1198.8" stroke="#000" stroke-width="1.2" />
<text x="525.0" y="1200.7" font-size="19.07" font-weight="bold" fill="#000" >0</text>
<line x1="665.2" y1="1203.3" x2="665.2" y2="1198.8" stroke="#000" stroke-width="1.2" />
<text x="652.7" y="1200.7" font-size="19.07" font-weight="bold" fill="#000" textLength="25.0" lengthAdjust="spacingAndGlyphs" >10</text>
<line x1="799.6" y1="1203.3" x2="799.6" y2="1198.8" stroke="#000" stroke-width="1.2" />
<text x="787.4" y="1200.7" font-size="19.07" font-weight="bold" fill="#000" textLength="25.0" lengthAdjust="spacingAndGlyphs" >20</text>
<line x1="934.1" y1="1203.3" x2="934.1" y2="1198.8" stroke="#000" stroke-width="1.2" />
<text x="922.0" y="1200.7" font-size="19.07" font-weight="bold" fill="#000" textLength="25.0" lengthAdjust="spacingAndGlyphs" >30</text>
<line x1="1068.5" y1="1203.3" x2="1068.5" y2="1198.8" stroke="#000" stroke-width="1.2" />
<text x="1056.6" y="1200.7" font-size="19.07" font-weight="bold" fill="#000" textLength="25.0" lengthAdjust="spacingAndGlyphs" >40</text>
<line x1="1203.0" y1="1203.3" x2="1203.0" y2="1198.8" stroke="#000" stroke-width="1.2" />
<text x="1190.8" y="1200.7" font-size="19.07" font-weight="bold" fill="#000" textLength="25.0" lengthAdjust="spacingAndGlyphs" >50</text>
<rect x="31.3" y="98.3" width="1270.1" height="1105.0" fill="none" stroke="#000" stroke-width="1.3" />
<line x1="1301.5" y1="424.1" x2="1389.6" y2="424.1" stroke="#9a9a9a" stroke-width="1.3" />
<line x1="1301.5" y1="614.6" x2="1389.6" y2="614.6" stroke="#9a9a9a" stroke-width="1.3" />
<line x1="1301.5" y1="749.7" x2="1389.6" y2="749.7" stroke="#9a9a9a" stroke-width="1.3" />
<line x1="1301.5" y1="854.6" x2="1389.6" y2="854.6" stroke="#9a9a9a" stroke-width="1.3" />
<line x1="1301.5" y1="940.2" x2="1389.6" y2="940.2" stroke="#9a9a9a" stroke-width="1.3" />
<line x1="1301.5" y1="1012.6" x2="1389.6" y2="1012.6" stroke="#9a9a9a" stroke-width="1.3" />
<line x1="1301.5" y1="1075.4" x2="1389.6" y2="1075.4" stroke="#9a9a9a" stroke-width="1.3" />
<line x1="1301.5" y1="1130.7" x2="1389.6" y2="1130.7" stroke="#9a9a9a" stroke-width="1.3" />
<line x1="1301.5" y1="1180.2" x2="1389.6" y2="1180.2" stroke="#9a9a9a" stroke-width="1.3" />
<rect x="1322.7" y="645.3" width="43.7" height="126.6" fill="#ff0000" stroke="#c06060" stroke-width="1" fill-opacity="0.3" stroke-opacity="0.55"/>
<rect x="1322.7" y="771.9" width="6.5" height="101.1" fill="#ff0000" stroke="#c06060" stroke-width="1" fill-opacity="0.3" stroke-opacity="0.55"/>
<rect x="1322.7" y="873.0" width="33.9" height="82.4" fill="#ff0000" stroke="#c06060" stroke-width="1" fill-opacity="0.3" stroke-opacity="0.55"/>
<rect x="1322.7" y="955.4" width="12.8" height="70.8" fill="#ff0000" stroke="#c06060" stroke-width="1" fill-opacity="0.3" stroke-opacity="0.55"/>
<rect x="1322.7" y="1026.2" width="6.5" height="61.0" fill="#ff0000" stroke="#c06060" stroke-width="1" fill-opacity="0.3" stroke-opacity="0.55"/>
<rect x="1322.7" y="1087.2" width="39.8" height="53.5" fill="#ff0000" stroke="#c06060" stroke-width="1" fill-opacity="0.3" stroke-opacity="0.55"/>
<line x1="1322.7" y1="98.3" x2="1322.7" y2="1203.3" stroke="#e0a8a8" stroke-width="1.6" />
<line x1="1322.7" y1="98.3" x2="1322.7" y2="1203.3" stroke="#000" stroke-width="1.6" stroke-dasharray="4 2.5"/>
<text x="1323.9" y="726.2" font-size="14.30" font-weight="bold" fill="#000" textLength="23.9" lengthAdjust="spacingAndGlyphs" >7.9</text>
<text x="1323.3" y="835.8" font-size="14.30" font-weight="bold" fill="#000" textLength="23.9" lengthAdjust="spacingAndGlyphs" >1.3</text>
<text x="1324.0" y="924.5" font-size="14.30" font-weight="bold" fill="#000" textLength="23.9" lengthAdjust="spacingAndGlyphs" >6.2</text>
<text x="1323.7" y="998.8" font-size="14.30" font-weight="bold" fill="#000" textLength="23.9" lengthAdjust="spacingAndGlyphs" >2.2</text>
<text x="1323.3" y="1063.4" font-size="14.30" font-weight="bold" fill="#000" textLength="23.9" lengthAdjust="spacingAndGlyphs" >1.3</text>
<text x="1323.9" y="1120.8" font-size="14.30" font-weight="bold" fill="#000" textLength="23.9" lengthAdjust="spacingAndGlyphs" >7.1</text>
<text x="1323.9" y="375.2" font-size="14.30" font-weight="bold" fill="#000" textLength="23.9" lengthAdjust="spacingAndGlyphs" >0.2</text>
<text x="1323.9" y="582.8" font-size="14.30" font-weight="bold" fill="#000" textLength="23.9" lengthAdjust="spacingAndGlyphs" >0.1</text>
<line x1="1301.5" y1="98.3" x2="1301.5" y2="1203.3" stroke="#000" stroke-width="1.3" />
<line x1="1384.6" y1="614.6" x2="1389.6" y2="614.6" stroke="#000" stroke-width="1" />
<line x1="1384.6" y1="749.7" x2="1389.6" y2="749.7" stroke="#000" stroke-width="1" />
<line x1="1384.6" y1="854.6" x2="1389.6" y2="854.6" stroke="#000" stroke-width="1" />
<line x1="1384.6" y1="940.2" x2="1389.6" y2="940.2" stroke="#000" stroke-width="1" />
<line x1="1384.6" y1="1012.6" x2="1389.6" y2="1012.6" stroke="#000" stroke-width="1" />
<line x1="1384.6" y1="1075.4" x2="1389.6" y2="1075.4" stroke="#000" stroke-width="1" />
<line x1="1384.6" y1="1130.7" x2="1389.6" y2="1130.7" stroke="#000" stroke-width="1" />
<line x1="1384.6" y1="1180.2" x2="1389.6" y2="1180.2" stroke="#000" stroke-width="1" />
<defs><clipPath id="chodo"><rect x="1389.6" y="98.3" width="1022.7" height="1105.0"/></clipPath></defs>
<g clip-path="url(#chodo)">
<circle cx="1685.2" cy="777.1" r="71.5" fill="none" stroke="#bdbdbd" stroke-width="1.2" stroke-dasharray="4.4 2.6"/>
<circle cx="1685.2" cy="777.1" r="143.0" fill="none" stroke="#999999" stroke-width="1.5"/>
<circle cx="1685.2" cy="777.1" r="214.5" fill="none" stroke="#bdbdbd" stroke-width="1.2" stroke-dasharray="4.4 2.6"/>
<circle cx="1685.2" cy="777.1" r="286.0" fill="none" stroke="#999999" stroke-width="1.5"/>
<circle cx="1685.2" cy="777.1" r="357.5" fill="none" stroke="#bdbdbd" stroke-width="1.2" stroke-dasharray="4.4 2.6"/>
<circle cx="1685.2" cy="777.1" r="429.0" fill="none" stroke="#999999" stroke-width="1.5"/>
<circle cx="1685.2" cy="777.1" r="500.5" fill="none" stroke="#bdbdbd" stroke-width="1.2" stroke-dasharray="4.4 2.6"/>
<circle cx="1685.2" cy="777.1" r="572.0" fill="none" stroke="#999999" stroke-width="1.5"/>
<circle cx="1685.2" cy="777.1" r="643.5" fill="none" stroke="#bdbdbd" stroke-width="1.2" stroke-dasharray="4.4 2.6"/>
<circle cx="1685.2" cy="777.1" r="715.0" fill="none" stroke="#999999" stroke-width="1.5"/>
<circle cx="1685.2" cy="777.1" r="786.5" fill="none" stroke="#bdbdbd" stroke-width="1.2" stroke-dasharray="4.4 2.6"/>
<circle cx="1685.2" cy="777.1" r="858.0" fill="none" stroke="#999999" stroke-width="1.5"/>
<circle cx="1685.2" cy="777.1" r="929.5" fill="none" stroke="#bdbdbd" stroke-width="1.2" stroke-dasharray="4.4 2.6"/>
<circle cx="1685.2" cy="777.1" r="1001.0" fill="none" stroke="#999999" stroke-width="1.5"/>
<line x1="1389.6" y1="777.1" x2="2412.3" y2="777.1" stroke="#6e6e6e" stroke-width="1.4" stroke-dasharray="8.6 2.2"/>
<line x1="1685.2" y1="98.3" x2="1685.2" y2="1203.3" stroke="#6e6e6e" stroke-width="1.4" stroke-dasharray="8.6 2.2"/>
<text x="1686.0" y="704.1" font-size="16.11" font-weight="bold" fill="#c8c8c8" textLength="21.2" lengthAdjust="spacingAndGlyphs" >10</text>
<text x="1686.7" y="561.1" font-size="16.11" font-weight="bold" fill="#c8c8c8" textLength="21.2" lengthAdjust="spacingAndGlyphs" >30</text>
<text x="1686.6" y="418.1" font-size="16.11" font-weight="bold" fill="#c8c8c8" textLength="21.2" lengthAdjust="spacingAndGlyphs" >50</text>
<text x="1686.7" y="275.1" font-size="16.11" font-weight="bold" fill="#c8c8c8" textLength="21.2" lengthAdjust="spacingAndGlyphs" >70</text>
<text x="1686.9" y="132.1" font-size="16.11" font-weight="bold" fill="#c8c8c8" textLength="21.2" lengthAdjust="spacingAndGlyphs" >90</text>
<text x="1686.0" y="847.1" font-size="16.11" font-weight="bold" fill="#c8c8c8" textLength="21.2" lengthAdjust="spacingAndGlyphs" >10</text>
<text x="1686.7" y="990.1" font-size="16.11" font-weight="bold" fill="#c8c8c8" textLength="21.2" lengthAdjust="spacingAndGlyphs" >30</text>
<text x="1613.2" y="775.1" font-size="16.11" font-weight="bold" fill="#c8c8c8" textLength="21.2" lengthAdjust="spacingAndGlyphs" >10</text>
<text x="1470.9" y="775.1" font-size="16.11" font-weight="bold" fill="#c8c8c8" textLength="21.2" lengthAdjust="spacingAndGlyphs" >30</text>
<text x="1756.2" y="775.1" font-size="16.11" font-weight="bold" fill="#c8c8c8" textLength="21.2" lengthAdjust="spacingAndGlyphs" >10</text>
<text x="1899.9" y="775.1" font-size="16.11" font-weight="bold" fill="#c8c8c8" textLength="21.2" lengthAdjust="spacingAndGlyphs" >30</text>
<text x="2042.8" y="775.1" font-size="16.11" font-weight="bold" fill="#c8c8c8" textLength="21.2" lengthAdjust="spacingAndGlyphs" >50</text>
<text x="2185.9" y="775.1" font-size="16.11" font-weight="bold" fill="#c8c8c8" textLength="21.2" lengthAdjust="spacingAndGlyphs" >70</text>
<text x="2329.1" y="775.1" font-size="16.11" font-weight="bold" fill="#c8c8c8" textLength="21.2" lengthAdjust="spacingAndGlyphs" >90</text>
<polygon points="1645.4,534.8 1684.3,483.0 1767.6,601.5" fill="#add8e6" stroke="#add8e6" stroke-width="2.2" fill-opacity="0.32" stroke-opacity="0.75"/>
<line x1="1685.2" y1="777.1" x2="1762.0" y2="612.0" stroke="#c4c4c4" stroke-width="4" />
<polygon points="1767.4,601.5 1756.0,612.0 1765.5,616.0" fill="#c4c4c4" stroke="#c4c4c4" stroke-width="1" />
<polyline points="2178.0,573.9 2215.8,632.1 2226.4,722.0 2222.4,776.2 2210.5,815.9 2204.4,817.2 2188.0,755.0 2178.8,691.6" fill="none" stroke="#fff0a0" stroke-width="8" stroke-linejoin="round" stroke-linecap="round"/>
<polyline points="1968.0,530.3 1984.4,528.9 2050.5,536.9 2124.6,566.0 2132.0,569.4 2118.0,580.5 2094.1,665.1 2119.5,632.1 2137.8,607.0 2165.5,552.7 2178.0,573.9" fill="none" stroke="#ffd700" stroke-width="8" stroke-linejoin="round" stroke-linecap="round"/>
<polyline points="1735.2,484.0 1757.4,475.6 1764.8,478.3 1809.3,508.9 1822.2,516.9 1859.3,532.0 1870.4,539.4 1908.3,555.2 1922.2,538.5 1937.0,531.1 1968.5,530.2" fill="none" stroke="#ff8c00" stroke-width="8" stroke-linejoin="round" stroke-linecap="round"/>
<polyline points="1656.4,453.4 1672.0,449.5 1687.0,452.5 1697.0,457.0 1706.0,462.5 1715.0,466.5 1716.0,476.0 1711.5,493.0 1716.0,486.0 1722.0,484.5 1737.0,484.5" fill="none" stroke="#ff0000" stroke-width="8" stroke-linejoin="round" stroke-linecap="round"/>
<polyline points="1658.7,747.8 1644.0,690.0 1627.0,631.4 1639.8,533.0 1654.9,509.4 1666.3,491.3 1686.6,467.8 1687.1,462.0" fill="none" stroke="#800080" stroke-width="8" stroke-linejoin="round"/>
<circle cx="1666.3" cy="491.3" r="10" fill="#fff" stroke="#000" stroke-width="1.6"/>
<text x="1657.2" y="497.3" font-size="17.48" font-weight="bold" fill="#000" textLength="17.7" lengthAdjust="spacingAndGlyphs" >.5</text>
<circle cx="1672.5" cy="459.3" r="10" fill="#fff" stroke="#000" stroke-width="1.6"/>
<text x="1666.4" y="465.3" font-size="17.48" font-weight="bold" fill="#000" >1</text>
<circle cx="1704" cy="463.1" r="10" fill="#fff" stroke="#000" stroke-width="1.6"/>
<text x="1698.3" y="469.1" font-size="17.48" font-weight="bold" fill="#000" >2</text>
<circle cx="1735.4" cy="484.4" r="10" fill="#fff" stroke="#000" stroke-width="1.6"/>
<text x="1729.7" y="490.4" font-size="17.48" font-weight="bold" fill="#000" >3</text>
<circle cx="1822.2" cy="516.9" r="10" fill="#fff" stroke="#000" stroke-width="1.6"/>
<text x="1816.5" y="522.9" font-size="17.48" font-weight="bold" fill="#000" >4</text>
<circle cx="1908.3" cy="555.2" r="10" fill="#fff" stroke="#000" stroke-width="1.6"/>
<text x="1902.5" y="561.2" font-size="17.48" font-weight="bold" fill="#000" >5</text>
<circle cx="1968.3" cy="530.3" r="10" fill="#fff" stroke="#000" stroke-width="1.6"/>
<text x="1962.5" y="536.3" font-size="17.48" font-weight="bold" fill="#000" >6</text>
<circle cx="2132" cy="569.4" r="10" fill="#fff" stroke="#000" stroke-width="1.6"/>
<text x="2126.3" y="575.4" font-size="17.48" font-weight="bold" fill="#000" >7</text>
<circle cx="2119.5" cy="632.1" r="10" fill="#fff" stroke="#000" stroke-width="1.6"/>
<text x="2113.8" y="638.1" font-size="17.48" font-weight="bold" fill="#000" >8</text>
<circle cx="2178" cy="573.9" r="10" fill="#fff" stroke="#000" stroke-width="1.6"/>
<text x="2172.3" y="579.9" font-size="17.48" font-weight="bold" fill="#000" >9</text>
<circle cx="2204.4" cy="817.2" r="10" fill="#fff" stroke="#000" stroke-width="1.6"/>
<text x="2192.6" y="823.2" font-size="17.48" font-weight="bold" fill="#000" textLength="23.0" lengthAdjust="spacingAndGlyphs" >11</text>
<text x="1814.3" y="401.8" font-size="20.34" font-weight="bold" fill="#111" textLength="31.3" lengthAdjust="spacingAndGlyphs" >LM</text>
<text x="1852.9" y="519.0" font-size="20.34" font-weight="bold" fill="#111" textLength="40.3" lengthAdjust="spacingAndGlyphs" >MW</text>
<text x="1771.4" y="605.2" font-size="20.34" font-weight="bold" fill="#111" textLength="33.9" lengthAdjust="spacingAndGlyphs" >RM</text>
<text x="1686.9" y="616.3" font-size="13.24" font-weight="bold" fill="#a52a2a" textLength="31.3" lengthAdjust="spacingAndGlyphs" >DTM</text>
<polygon points="1698.5,625.5 1710.5,625.5 1704.5,636.0" fill="#b55050" stroke="#b55050" stroke-width="1" fill-opacity="0.9"/>
<text x="2084.8" y="534.2" font-size="16.85" font-weight="bold" fill="#ffa500" fill-opacity="0.6" textLength="26.5" lengthAdjust="spacingAndGlyphs" >DN</text>
<text x="1891.9" y="787.9" font-size="16.85" font-weight="bold" fill="#ffa500" fill-opacity="0.6" textLength="24.6" lengthAdjust="spacingAndGlyphs" >UP</text>
<text x="1410.6" y="124.8" font-size="22.09" font-weight="bold" fill="#666666" textLength="406.7" lengthAdjust="spacingAndGlyphs" >SM: RIGHT MOVING | NNE @ 27 kts</text>
<text x="1410.1" y="154.6" font-size="22.09" fill="#666666" textLength="188.9" lengthAdjust="spacingAndGlyphs" >RM: NNE @ 27 kts</text>
<text x="1410.1" y="194.0" font-size="22.09" fill="#666666" textLength="186.0" lengthAdjust="spacingAndGlyphs" >LM: NNE @ 55 kts</text>
<text x="1410.1" y="233.4" font-size="22.09" fill="#666666" textLength="193.8" lengthAdjust="spacingAndGlyphs" >MW: NNE @ 43 kts</text>
<text x="1402.4" y="272.6" font-size="22.09" fill="#666666" textLength="174.4" lengthAdjust="spacingAndGlyphs" >DTM: N @ 20 kts</text>
<text x="1410.3" y="311.7" font-size="22.09" fill="#666666" textLength="153.7" lengthAdjust="spacingAndGlyphs" >US: E @ 30 kts</text>
<text x="1410.1" y="350.6" font-size="22.09" fill="#666666" textLength="183.3" lengthAdjust="spacingAndGlyphs" >DS: ENE @ 66 kts</text>
</g>
<defs><filter id="grain" x="0" y="0" width="1" height="1"><feTurbulence type="fractalNoise" baseFrequency="0.35" numOctaves="2" seed="4" result="n"/><feColorMatrix type="matrix" values="0 0 0 0 0.62  0 0 0 0 0.62  0 0 0 0 0.58  0 0 0 -1.3 1.0" /></filter><filter id="blot" x="0" y="0" width="1" height="1"><feTurbulence type="fractalNoise" baseFrequency="0.04" numOctaves="2" seed="9"/><feColorMatrix type="matrix" values="0 0 0 0 0.55  0 0 0 0 0.60  0 0 0 0 0.58  0 0 0 -2.2 1.25" /></filter></defs>
<rect x="1389.6" y="943.2" width="259.7" height="260.1" fill="#aeaa9f" stroke="none" stroke-width="1" />
<rect x="1389.6" y="943.2" width="259.7" height="260.1" filter="url(#blot)" opacity="0.55"/>
<rect x="1389.6" y="943.2" width="259.7" height="260.1" filter="url(#grain)" opacity="0.5"/>
<path d="M1397.7,955.9 L1425.0,955.9 M1390.5,951.4 L1397.7,951.4 M1418.6,968.6 L1454.1,968.6 M1390.5,974.1 L1418.6,974.1 M1454.1,974.1 L1504.1,974.1 M1504.1,962.3 L1539.6,962.3 M1539.6,951.4 L1580.5,951.4 M1580.5,982.3 L1617.8,982.3 M1617.8,974.1 L1646.9,974.1 M1419.6,991.4 L1454.1,991.4 M1497.8,990.5 L1580.5,990.5 M1390.5,996.8 L1419.6,996.8 M1454.1,996.8 L1497.8,996.8 M1580.5,1002.3 L1617.8,1002.3 M1617.8,954.1 L1646.9,954.1 M1617.8,996.8 L1646.9,996.8 M1390.5,1076.0 L1648.7,1076.0 M1477.8,1048.7 L1548.7,1048.7 M1449.6,1056.0 L1477.8,1056.0 M1390.5,1047.8 L1400.5,1047.8 M1395.9,1098.7 L1443.2,1098.7 M1395.9,1121.4 L1443.2,1121.4 M1390.5,1144.2 L1443.2,1144.2 M1465.0,1104.2 L1540.5,1104.2 M1540.5,1090.5 L1574.2,1090.5 M1540.5,1122.3 L1586.9,1122.3 M1574.2,1110.5 L1602.4,1110.5 M1602.4,1096.9 L1629.6,1096.9 M1431.4,1161.4 L1479.6,1161.4 M1506.9,1161.4 L1554.2,1161.4 M1586.9,1132.3 L1616.0,1132.3 M1629.6,1076.9 L1648.7,1076.9 M1616.0,1116.9 L1648.7,1116.9 M1630.5,1100.5 L1648.7,1100.5 M1418.6,955.9 L1418.6,1020.5 M1454.1,944.1 L1454.1,996.8 M1462.3,996.8 L1462.3,1020.5 M1504.1,945.0 L1504.1,974.1 M1497.8,974.1 L1497.8,1020.5 M1539.6,945.0 L1539.6,1020.5 M1580.5,951.4 L1580.5,1020.5 M1617.8,944.1 L1617.8,1020.5 M1646.9,944.1 L1646.9,1020.5 M1449.6,1023.2 L1449.6,1060.5 M1477.8,1023.2 L1477.8,1076.0 M1519.6,1023.2 L1519.6,1076.0 M1566.0,1023.2 L1566.0,1044.1 M1614.2,1023.2 L1614.2,1076.0 M1627.8,1023.2 L1627.8,1060.5 M1422.3,1047.8 L1422.3,1076.0 M1400.5,1034.1 L1400.5,1047.8 M1395.9,1076.0 L1395.9,1144.2 M1443.2,1076.0 L1443.2,1160.5 M1471.4,1076.0 L1471.4,1104.2 M1465.0,1104.2 L1465.0,1126.9 M1506.0,1076.0 L1506.0,1171.4 M1478.7,1127.8 L1478.7,1171.4 M1540.5,1089.6 L1540.5,1155.1 M1574.2,1076.0 L1574.2,1122.3 M1602.4,1096.9 L1602.4,1126.9 M1629.6,1096.9 L1629.6,1126.9 M1586.9,1122.3 L1586.9,1155.1 M1565.1,1126.0 L1565.1,1155.1 M1609.6,1144.2 L1609.6,1178.7 M1431.4,1161.4 L1431.4,1171.4 M1554.2,1155.1 L1554.2,1171.4 M1588.7,1166.0 L1588.7,1178.7 M1629.6,1116.9 L1629.6,1178.7 M1390.5,1023.2 L1400.5,1034.1 L1412.3,1035.9 L1422.3,1047.8 L1422.3,1054.1 L1433.2,1058.7 L1449.6,1060.5 M1546.0,1044.1 L1556.0,1038.7 L1566.0,1033.2 L1566.0,1023.2 M1548.7,1054.1 L1555.1,1060.5 L1566.9,1051.4 L1581.4,1066.0 L1597.8,1075.1 M1506.9,1129.6 L1526.9,1144.2 L1530.5,1155.1 L1554.2,1156.0 L1566.9,1156.9 L1588.7,1156.0 L1610.5,1144.2 L1626.9,1137.8 L1648.7,1133.3 M1465.0,1126.9 L1486.9,1128.7 L1506.9,1129.6 M1390.5,1144.2 L1397.7,1146.0 L1403.2,1162.4 L1410.5,1162.4 L1412.3,1171.4" stroke="#343434" stroke-width="1.3" fill="none"/>
<line x1="1389.6" y1="1021.4" x2="1649.3" y2="1021.4" stroke="#000" stroke-width="2.4" />
<polyline points="1390.5,1186.9 1395.9,1185.1 1401.4,1189.6 1405.0,1193.3 1408.6,1196.9" fill="none" stroke="#000" stroke-width="2.4" />
<circle cx="1519" cy="1136.5" r="6.3" fill="none" stroke="#000" stroke-width="2.2"/>
<line x1="1507.0" y1="1136.5" x2="1532.0" y2="1136.5" stroke="#000" stroke-width="2.8" />
<line x1="1519.0" y1="1125.0" x2="1519.0" y2="1149.0" stroke="#000" stroke-width="1.8" />
<rect x="1406.8" y="1172.4" width="223.7" height="26.3" fill="#f4f4f4" stroke="#aaa" stroke-width="0.8" fill-opacity="0.92"/>
<text x="1409.8" y="1190.5" font-size="19.15" font-weight="bold" fill="#111" textLength="216.2" lengthAdjust="spacingAndGlyphs" >RADAR UNAVAILABLE</text>
<rect x="1389.6" y="943.2" width="259.7" height="260.1" fill="none" stroke="#000" stroke-width="1.3" />
<rect x="2192.6" y="1021.6" width="219.6" height="181.6" fill="#fff" stroke="#000" stroke-width="1.3" />
<text x="2209.4" y="1049.0" font-size="19.07" font-weight="bold" fill="#111" textLength="32.5" lengthAdjust="spacingAndGlyphs" >0-3</text><text x="2242.0" y="1049.0" font-size="11.83" font-weight="bold" fill="#111" textLength="19.1" lengthAdjust="spacingAndGlyphs" >km</text>
<text x="2267.2" y="1049.0" font-size="19.07" font-weight="bold" fill="#111" textLength="48.7" lengthAdjust="spacingAndGlyphs" >SRH,</text>
<text x="2337.2" y="1049.0" font-size="19.07" font-weight="bold" fill="#111" textLength="47.5" lengthAdjust="spacingAndGlyphs" >BWD</text>
<text x="2209.1" y="1079.5" font-size="19.07" font-weight="bold" fill="#4169e1" textLength="95.7" lengthAdjust="spacingAndGlyphs" >244 m²/s²</text>
<text x="2334.7" y="1079.5" font-size="19.07" font-weight="bold" fill="#4169e1" textLength="51.9" lengthAdjust="spacingAndGlyphs" >37 kt</text>
<text x="2209.4" y="1108.6" font-size="19.07" font-weight="bold" fill="#111" textLength="32.5" lengthAdjust="spacingAndGlyphs" >0-6</text><text x="2242.0" y="1108.6" font-size="11.83" font-weight="bold" fill="#111" textLength="19.1" lengthAdjust="spacingAndGlyphs" >km</text>
<text x="2267.2" y="1108.6" font-size="19.07" font-weight="bold" fill="#111" textLength="48.7" lengthAdjust="spacingAndGlyphs" >SRH,</text>
<text x="2337.2" y="1108.6" font-size="19.07" font-weight="bold" fill="#111" textLength="47.5" lengthAdjust="spacingAndGlyphs" >BWD</text>
<text x="2209.3" y="1137.0" font-size="19.07" font-weight="bold" fill="#4169e1" textLength="95.7" lengthAdjust="spacingAndGlyphs" >346 m²/s²</text>
<text x="2334.6" y="1137.0" font-size="19.07" font-weight="bold" fill="#4169e1" textLength="51.9" lengthAdjust="spacingAndGlyphs" >52 kt</text>
<text x="2202.3" y="1167.4" font-size="19.07" font-weight="bold" fill="#111" textLength="39.4" lengthAdjust="spacingAndGlyphs" >SCP</text>
<text x="2257.7" y="1167.4" font-size="19.07" font-weight="bold" fill="#111" textLength="38.4" lengthAdjust="spacingAndGlyphs" >STP</text>
<text x="2315.4" y="1167.4" font-size="19.07" font-weight="bold" fill="#111" textLength="34.1" lengthAdjust="spacingAndGlyphs" >EHI</text>
<text x="2370.3" y="1167.4" font-size="19.07" font-weight="bold" fill="#111" textLength="34.1" lengthAdjust="spacingAndGlyphs" >EHI</text>
<text x="2311.9" y="1177.0" font-size="10.07" font-weight="bold" fill="#111" textLength="34.2" lengthAdjust="spacingAndGlyphs" >0–1km</text>
<text x="2366.8" y="1177.0" font-size="10.07" font-weight="bold" fill="#111" textLength="34.2" lengthAdjust="spacingAndGlyphs" >0–3km</text>
<text x="2216.9" y="1192.6" font-size="19.07" font-weight="bold" fill="#b22222" >0</text>
<text x="2271.8" y="1192.6" font-size="19.07" font-weight="bold" fill="#b22222" >0</text>
<text x="2325.5" y="1192.6" font-size="19.07" font-weight="bold" fill="#ff4500" >1</text>
<text x="2380.4" y="1192.6" font-size="19.07" font-weight="bold" fill="#ff4500" >1</text>
<rect x="1389.6" y="98.3" width="1022.7" height="1105.0" fill="none" stroke="#000" stroke-width="1.3" />
<rect x="31.2" y="1203.5" width="893.4" height="233.5" fill="#fff" stroke="#000" stroke-width="1.3" />
<text x="131.0" y="1242.6" font-size="22.36" font-weight="bold" fill="#000" textLength="116.3" lengthAdjust="spacingAndGlyphs" >SR-ECAPE</text>
<text x="296.8" y="1242.6" font-size="22.36" font-weight="bold" fill="#000" textLength="61.7" lengthAdjust="spacingAndGlyphs" >CAPE</text>
<text x="423.1" y="1242.6" font-size="22.36" font-weight="bold" fill="#000" textLength="76.4" lengthAdjust="spacingAndGlyphs" >6CAPE</text>
<text x="563.6" y="1242.6" font-size="22.36" font-weight="bold" fill="#000" textLength="76.4" lengthAdjust="spacingAndGlyphs" >3CAPE</text>
<text x="711.7" y="1242.6" font-size="22.36" font-weight="bold" fill="#000" textLength="41.0" lengthAdjust="spacingAndGlyphs" >CIN</text>
<text x="838.2" y="1242.6" font-size="22.36" font-weight="bold" fill="#000" textLength="42.4" lengthAdjust="spacingAndGlyphs" >LCL</text>
<text x="44.2" y="1281.6" font-size="22.36" font-weight="bold" fill="#000" textLength="39.7" lengthAdjust="spacingAndGlyphs" >SB:</text>
<text x="130.9" y="1281.6" font-size="22.36" font-weight="bold" fill="#b22222" textLength="81.4" lengthAdjust="spacingAndGlyphs" >58 J/kg</text>
<text x="274.5" y="1281.6" font-size="22.36" font-weight="bold" fill="#ff4500" textLength="66.7" lengthAdjust="spacingAndGlyphs" >0 J/kg</text>
<text x="417.7" y="1281.6" font-size="22.36" font-weight="bold" fill="#ff4500" textLength="66.7" lengthAdjust="spacingAndGlyphs" >0 J/kg</text>
<text x="558.3" y="1281.6" font-size="22.36" font-weight="bold" fill="#ff4500" textLength="66.7" lengthAdjust="spacingAndGlyphs" >0 J/kg</text>
<text x="692.2" y="1281.6" font-size="22.36" font-weight="bold" fill="#ff4500" textLength="66.7" lengthAdjust="spacingAndGlyphs" >0 J/kg</text>
<text x="823.3" y="1281.6" font-size="22.36" font-weight="bold" fill="#ff4500" textLength="73.4" lengthAdjust="spacingAndGlyphs" >127 m</text>
<text x="43.8" y="1320.7" font-size="22.36" font-weight="bold" fill="#000" textLength="46.6" lengthAdjust="spacingAndGlyphs" >MU:</text>
<text x="131.2" y="1320.7" font-size="22.36" font-weight="bold" fill="#b22222" textLength="96.1" lengthAdjust="spacingAndGlyphs" >603 J/kg</text>
<text x="274.0" y="1320.7" font-size="22.36" font-weight="bold" fill="#ff4500" textLength="96.1" lengthAdjust="spacingAndGlyphs" >793 J/kg</text>
<text x="416.9" y="1320.7" font-size="22.36" font-weight="bold" fill="#ff4500" textLength="96.1" lengthAdjust="spacingAndGlyphs" >256 J/kg</text>
<text x="557.5" y="1320.7" font-size="22.36" font-weight="bold" fill="#ff4500" textLength="81.4" lengthAdjust="spacingAndGlyphs" >27 J/kg</text>
<text x="691.9" y="1320.7" font-size="22.36" font-weight="bold" fill="#ff4500" textLength="90.2" lengthAdjust="spacingAndGlyphs" >-27 J/kg</text>
<text x="824.3" y="1320.7" font-size="22.36" font-weight="bold" fill="#ff4500" textLength="73.4" lengthAdjust="spacingAndGlyphs" >677 m</text>
<text x="43.8" y="1359.7" font-size="22.36" font-weight="bold" fill="#000" textLength="42.9" lengthAdjust="spacingAndGlyphs" >ML:</text>
<text x="130.2" y="1359.7" font-size="22.36" font-weight="bold" fill="#b22222" textLength="96.1" lengthAdjust="spacingAndGlyphs" >157 J/kg</text>
<text x="274.0" y="1359.7" font-size="22.36" font-weight="bold" fill="#ff4500" textLength="66.7" lengthAdjust="spacingAndGlyphs" >3 J/kg</text>
<text x="416.3" y="1359.7" font-size="22.36" font-weight="bold" fill="#ff4500" textLength="66.7" lengthAdjust="spacingAndGlyphs" >1 J/kg</text>
<text x="558.3" y="1359.7" font-size="22.36" font-weight="bold" fill="#ff4500" textLength="66.7" lengthAdjust="spacingAndGlyphs" >0 J/kg</text>
<text x="691.9" y="1359.7" font-size="22.36" font-weight="bold" fill="#ff4500" textLength="104.8" lengthAdjust="spacingAndGlyphs" >-482 J/kg</text>
<text x="824.2" y="1359.7" font-size="22.36" font-weight="bold" fill="#ff4500" textLength="73.4" lengthAdjust="spacingAndGlyphs" >360 m</text>
<text x="43.8" y="1393.0" font-size="22.36" font-weight="bold" fill="#000" textLength="87.6" lengthAdjust="spacingAndGlyphs" >DCAPE:</text>
<text x="142.5" y="1393.0" font-size="22.36" font-weight="bold" fill="#8db0f2" textLength="96.1" lengthAdjust="spacingAndGlyphs" >678 J/kg</text>
<text x="43.8" y="1419.0" font-size="22.36" font-weight="bold" fill="#000" textLength="66.9" lengthAdjust="spacingAndGlyphs" >DCIN:</text>
<text x="142.9" y="1419.0" font-size="22.36" font-weight="bold" fill="#8db0f2" textLength="66.7" lengthAdjust="spacingAndGlyphs" >0 J/kg</text>
<text x="285.9" y="1412.4" font-size="22.36" font-weight="bold" fill="#000" textLength="125.9" lengthAdjust="spacingAndGlyphs" >MUNCAPE:</text>
<text x="414.2" y="1412.4" font-size="22.36" font-weight="bold" fill="#bc6e6e" textLength="37.4" lengthAdjust="spacingAndGlyphs" >0.1</text>
<text x="494.2" y="1412.4" font-size="22.36" font-weight="bold" fill="#000" >Γ</text>
<text x="508.6" y="1412.4" font-size="13.86" font-weight="bold" fill="#000" textLength="24.7" lengthAdjust="spacingAndGlyphs" >0–3</text>
<text x="533.8" y="1412.4" font-size="22.36" font-weight="bold" fill="#000" >:</text>
<text x="560.3" y="1412.4" font-size="22.36" font-weight="bold" fill="#8b4513" textLength="108.1" lengthAdjust="spacingAndGlyphs" >4 Δ°C/km</text>
<text x="692.1" y="1412.4" font-size="22.36" font-weight="bold" fill="#000" >Γ</text>
<text x="706.5" y="1412.4" font-size="13.86" font-weight="bold" fill="#000" textLength="24.7" lengthAdjust="spacingAndGlyphs" >3–6</text>
<text x="731.7" y="1412.4" font-size="22.36" font-weight="bold" fill="#000" >:</text>
<text x="765.8" y="1412.4" font-size="22.36" font-weight="bold" fill="#8b4513" textLength="108.1" lengthAdjust="spacingAndGlyphs" >7 Δ°C/km</text>
<rect x="924.6" y="1203.5" width="329.7" height="298.8" fill="#fff" stroke="#000" stroke-width="1.3" />
<text x="1039.2" y="1242.6" font-size="22.36" font-weight="bold" fill="#000" textLength="74.3" lengthAdjust="spacingAndGlyphs" >RH(%)</text>
<text x="1163.9" y="1242.6" font-size="22.36" font-weight="bold" fill="#000" >ω</text>
<text x="946.2" y="1281.6" font-size="22.36" font-weight="bold" fill="#000" textLength="46.1" lengthAdjust="spacingAndGlyphs" >0-.5</text>
<text x="992.8" y="1281.6" font-size="14.31" font-weight="bold" fill="#000" textLength="23.1" lengthAdjust="spacingAndGlyphs" >km</text>
<text x="1016.3" y="1281.6" font-size="22.36" font-weight="bold" fill="#000" >:</text>
<line x1="948.6" y1="1262.0" x2="980.6" y2="1262.0" stroke="#000" stroke-width="1.6" />
<text x="1044.4" y="1281.6" font-size="22.36" font-weight="bold" fill="#2f972f" textLength="57.8" lengthAdjust="spacingAndGlyphs" >93 %</text>
<text x="1120.7" y="1281.6" font-size="22.36" font-weight="bold" fill="#2f972f" textLength="111.4" lengthAdjust="spacingAndGlyphs" >12.2 g/kg</text>
<text x="946.2" y="1320.7" font-size="22.36" font-weight="bold" fill="#000" textLength="38.1" lengthAdjust="spacingAndGlyphs" >0-1</text>
<text x="984.8" y="1320.7" font-size="14.31" font-weight="bold" fill="#000" textLength="23.1" lengthAdjust="spacingAndGlyphs" >km</text>
<text x="1008.3" y="1320.7" font-size="22.36" font-weight="bold" fill="#000" >:</text>
<line x1="948.6" y1="1301.1" x2="980.6" y2="1301.1" stroke="#000" stroke-width="1.6" />
<text x="1044.4" y="1320.7" font-size="22.36" font-weight="bold" fill="#2f972f" textLength="57.8" lengthAdjust="spacingAndGlyphs" >92 %</text>
<text x="1120.7" y="1320.7" font-size="22.36" font-weight="bold" fill="#2f972f" textLength="111.4" lengthAdjust="spacingAndGlyphs" >12.6 g/kg</text>
<text x="944.8" y="1359.7" font-size="22.36" font-weight="bold" fill="#000" textLength="38.1" lengthAdjust="spacingAndGlyphs" >1-3</text>
<text x="983.4" y="1359.7" font-size="14.31" font-weight="bold" fill="#000" textLength="23.1" lengthAdjust="spacingAndGlyphs" >km</text>
<text x="1007.0" y="1359.7" font-size="22.36" font-weight="bold" fill="#000" >:</text>
<line x1="948.6" y1="1340.1" x2="980.6" y2="1340.1" stroke="#000" stroke-width="1.6" />
<text x="1044.1" y="1359.7" font-size="22.36" font-weight="bold" fill="#52a852" textLength="57.8" lengthAdjust="spacingAndGlyphs" >70 %</text>
<text x="1121.7" y="1359.7" font-size="22.36" font-weight="bold" fill="#52a852" textLength="96.7" lengthAdjust="spacingAndGlyphs" >8.0 g/kg</text>
<text x="945.7" y="1398.8" font-size="22.36" font-weight="bold" fill="#000" textLength="38.1" lengthAdjust="spacingAndGlyphs" >3-6</text>
<text x="984.3" y="1398.8" font-size="14.31" font-weight="bold" fill="#000" textLength="23.1" lengthAdjust="spacingAndGlyphs" >km</text>
<text x="1007.9" y="1398.8" font-size="22.36" font-weight="bold" fill="#000" >:</text>
<line x1="948.6" y1="1379.2" x2="980.6" y2="1379.2" stroke="#000" stroke-width="1.6" />
<text x="1043.8" y="1398.8" font-size="22.36" font-weight="bold" fill="#66b566" textLength="57.8" lengthAdjust="spacingAndGlyphs" >25 %</text>
<text x="1120.7" y="1398.8" font-size="22.36" font-weight="bold" fill="#66b566" textLength="96.7" lengthAdjust="spacingAndGlyphs" >1.6 g/kg</text>
<text x="945.8" y="1437.8" font-size="22.36" font-weight="bold" fill="#000" textLength="38.1" lengthAdjust="spacingAndGlyphs" >6-9</text>
<text x="984.5" y="1437.8" font-size="14.31" font-weight="bold" fill="#000" textLength="23.1" lengthAdjust="spacingAndGlyphs" >km</text>
<text x="1008.0" y="1437.8" font-size="22.36" font-weight="bold" fill="#000" >:</text>
<line x1="948.6" y1="1418.2" x2="980.6" y2="1418.2" stroke="#000" stroke-width="1.6" />
<text x="1043.8" y="1437.8" font-size="22.36" font-weight="bold" fill="#6cb96c" textLength="57.8" lengthAdjust="spacingAndGlyphs" >26 %</text>
<text x="1122.1" y="1437.8" font-size="22.36" font-weight="bold" fill="#6cb96c" textLength="96.7" lengthAdjust="spacingAndGlyphs" >0.4 g/kg</text>
<text x="945.6" y="1466.7" font-size="17.91" font-weight="bold" fill="#000" textLength="59.4" lengthAdjust="spacingAndGlyphs" >PWAT:</text>
<text x="1017.5" y="1466.7" font-size="17.91" font-weight="bold" fill="#006400" textLength="77.2" lengthAdjust="spacingAndGlyphs" >1.291 in</text>
<text x="1115.8" y="1466.7" font-size="17.91" font-weight="bold" fill="#000" textLength="38.3" lengthAdjust="spacingAndGlyphs" >WB:</text>
<text x="1173.7" y="1466.7" font-size="17.91" font-weight="bold" fill="#006400" textLength="50.3" lengthAdjust="spacingAndGlyphs" >16 °C</text>
<text x="945.6" y="1492.8" font-size="17.91" font-weight="bold" fill="#000" textLength="43.6" lengthAdjust="spacingAndGlyphs" >FRZ:</text>
<text x="1024.4" y="1492.8" font-size="17.91" font-weight="bold" fill="#6495ed" textLength="64.6" lengthAdjust="spacingAndGlyphs" >4300m</text>
<text x="1109.2" y="1492.8" font-size="17.91" font-weight="bold" fill="#000" textLength="50.0" lengthAdjust="spacingAndGlyphs" >WB0:</text>
<text x="1169.3" y="1492.8" font-size="17.91" font-weight="bold" fill="#6495ed" textLength="64.6" lengthAdjust="spacingAndGlyphs" >3200m</text>
<rect x="1254.3" y="1203.6" width="583.1" height="298.4" fill="#fff" stroke="#000" stroke-width="1.3" />
<text x="1374.4" y="1243.0" font-size="22.36" font-weight="bold" fill="#333" textLength="55.7" lengthAdjust="spacingAndGlyphs" >BWD</text>
<text x="1480.4" y="1243.0" font-size="22.36" font-weight="bold" fill="#333" textLength="49.1" lengthAdjust="spacingAndGlyphs" >SRH</text>
<text x="1579.5" y="1243.0" font-size="22.36" font-weight="bold" fill="#333" textLength="54.7" lengthAdjust="spacingAndGlyphs" >SRW</text>
<text x="1655.3" y="1243.0" font-size="22.36" font-weight="bold" fill="#333" textLength="72.1" lengthAdjust="spacingAndGlyphs" >SWζ%</text>
<text x="1755.1" y="1243.0" font-size="22.36" font-weight="bold" fill="#333" textLength="50.9" lengthAdjust="spacingAndGlyphs" >SWζ</text>
<text x="1273.9" y="1281.4" font-size="22.36" font-weight="bold" fill="#222" textLength="46.1" lengthAdjust="spacingAndGlyphs" >0-.5</text>
<text x="1320.5" y="1281.4" font-size="14.31" font-weight="bold" fill="#222" textLength="23.1" lengthAdjust="spacingAndGlyphs" >km</text>
<text x="1344.0" y="1281.4" font-size="22.36" font-weight="bold" fill="#222" >:</text>
<text x="1368.6" y="1281.4" font-size="22.36" font-weight="bold" fill="#6495ed" textLength="60.8" lengthAdjust="spacingAndGlyphs" >35 kt</text>
<text x="1448.6" y="1281.4" font-size="22.36" font-weight="bold" fill="#6495ed" textLength="112.1" lengthAdjust="spacingAndGlyphs" >189 m²/s²</text>
<text x="1579.3" y="1281.4" font-size="22.36" font-weight="bold" fill="#6495ed" textLength="60.8" lengthAdjust="spacingAndGlyphs" >23 kt</text>
<text x="1672.1" y="1281.4" font-size="22.36" font-weight="bold" fill="#6495ed" textLength="29.4" lengthAdjust="spacingAndGlyphs" >93</text>
<text x="1748.8" y="1281.4" font-size="22.36" font-weight="bold" fill="#6495ed" textLength="66.7" lengthAdjust="spacingAndGlyphs" >0.036</text>
<text x="1273.9" y="1320.5" font-size="22.36" font-weight="bold" fill="#222" textLength="38.1" lengthAdjust="spacingAndGlyphs" >0-1</text>
<text x="1312.5" y="1320.5" font-size="14.31" font-weight="bold" fill="#222" textLength="23.1" lengthAdjust="spacingAndGlyphs" >km</text>
<text x="1336.0" y="1320.5" font-size="22.36" font-weight="bold" fill="#222" >:</text>
<text x="1368.6" y="1320.5" font-size="22.36" font-weight="bold" fill="#6495ed" textLength="60.8" lengthAdjust="spacingAndGlyphs" >39 kt</text>
<text x="1449.2" y="1320.5" font-size="22.36" font-weight="bold" fill="#6495ed" textLength="112.1" lengthAdjust="spacingAndGlyphs" >206 m²/s²</text>
<text x="1579.3" y="1320.5" font-size="22.36" font-weight="bold" fill="#6495ed" textLength="60.8" lengthAdjust="spacingAndGlyphs" >24 kt</text>
<text x="1671.8" y="1320.5" font-size="22.36" font-weight="bold" fill="#6495ed" textLength="29.4" lengthAdjust="spacingAndGlyphs" >77</text>
<text x="1748.8" y="1320.5" font-size="22.36" font-weight="bold" fill="#6495ed" textLength="66.7" lengthAdjust="spacingAndGlyphs" >0.022</text>
<text x="1272.5" y="1359.7" font-size="22.36" font-weight="bold" fill="#222" textLength="38.1" lengthAdjust="spacingAndGlyphs" >1-3</text>
<text x="1311.1" y="1359.7" font-size="14.31" font-weight="bold" fill="#222" textLength="23.1" lengthAdjust="spacingAndGlyphs" >km</text>
<text x="1334.7" y="1359.7" font-size="22.36" font-weight="bold" fill="#222" >:</text>
<text x="1368.9" y="1359.7" font-size="22.36" font-weight="bold" fill="#6495ed" textLength="46.1" lengthAdjust="spacingAndGlyphs" >9 kt</text>
<text x="1449.5" y="1359.7" font-size="22.36" font-weight="bold" fill="#6495ed" textLength="97.4" lengthAdjust="spacingAndGlyphs" >38 m²/s²</text>
<text x="1579.3" y="1359.7" font-size="22.36" font-weight="bold" fill="#6495ed" textLength="60.8" lengthAdjust="spacingAndGlyphs" >20 kt</text>
<text x="1671.9" y="1359.7" font-size="22.36" font-weight="bold" fill="#6495ed" textLength="29.4" lengthAdjust="spacingAndGlyphs" >66</text>
<text x="1748.8" y="1359.7" font-size="22.36" font-weight="bold" fill="#6495ed" textLength="66.7" lengthAdjust="spacingAndGlyphs" >0.003</text>
<text x="1273.4" y="1398.9" font-size="22.36" font-weight="bold" fill="#222" textLength="38.1" lengthAdjust="spacingAndGlyphs" >3-6</text>
<text x="1312.0" y="1398.9" font-size="14.31" font-weight="bold" fill="#222" textLength="23.1" lengthAdjust="spacingAndGlyphs" >km</text>
<text x="1335.6" y="1398.9" font-size="22.36" font-weight="bold" fill="#222" >:</text>
<text x="1368.6" y="1398.9" font-size="22.36" font-weight="bold" fill="#6495ed" textLength="60.8" lengthAdjust="spacingAndGlyphs" >33 kt</text>
<text x="1448.6" y="1398.9" font-size="22.36" font-weight="bold" fill="#6495ed" textLength="112.1" lengthAdjust="spacingAndGlyphs" >101 m²/s²</text>
<text x="1579.3" y="1398.9" font-size="22.36" font-weight="bold" fill="#6495ed" textLength="60.8" lengthAdjust="spacingAndGlyphs" >23 kt</text>
<text x="1671.9" y="1398.9" font-size="22.36" font-weight="bold" fill="#6495ed" textLength="29.4" lengthAdjust="spacingAndGlyphs" >64</text>
<text x="1748.8" y="1398.9" font-size="22.36" font-weight="bold" fill="#6495ed" textLength="66.7" lengthAdjust="spacingAndGlyphs" >0.005</text>
<text x="1273.5" y="1437.5" font-size="22.36" font-weight="bold" fill="#222" textLength="38.1" lengthAdjust="spacingAndGlyphs" >6-9</text>
<text x="1312.2" y="1437.5" font-size="14.31" font-weight="bold" fill="#222" textLength="23.1" lengthAdjust="spacingAndGlyphs" >km</text>
<text x="1335.7" y="1437.5" font-size="22.36" font-weight="bold" fill="#222" >:</text>
<text x="1368.3" y="1437.5" font-size="22.36" font-weight="bold" fill="#6495ed" textLength="60.8" lengthAdjust="spacingAndGlyphs" >29 kt</text>
<text x="1448.6" y="1437.5" font-size="22.36" font-weight="bold" fill="#6495ed" textLength="112.1" lengthAdjust="spacingAndGlyphs" >110 m²/s²</text>
<text x="1580.1" y="1437.5" font-size="22.36" font-weight="bold" fill="#6495ed" textLength="60.8" lengthAdjust="spacingAndGlyphs" >43 kt</text>
<text x="1671.9" y="1437.5" font-size="22.36" font-weight="bold" fill="#6495ed" textLength="29.4" lengthAdjust="spacingAndGlyphs" >67</text>
<text x="1748.8" y="1437.5" font-size="22.36" font-weight="bold" fill="#6495ed" textLength="66.7" lengthAdjust="spacingAndGlyphs" >0.007</text>
<text x="1272.9" y="1476.7" font-size="22.36" font-weight="bold" fill="#222" textLength="44.1" lengthAdjust="spacingAndGlyphs" >EIL:</text>
<text x="1367.7" y="1476.7" font-size="22.36" font-weight="bold" fill="#6495ed" textLength="60.8" lengthAdjust="spacingAndGlyphs" >11 kt</text>
<text x="1450.0" y="1476.7" font-size="22.36" font-weight="bold" fill="#6495ed" textLength="97.4" lengthAdjust="spacingAndGlyphs" >45 m²/s²</text>
<text x="1579.3" y="1476.7" font-size="22.36" font-weight="bold" fill="#6495ed" textLength="60.8" lengthAdjust="spacingAndGlyphs" >23 kt</text>
<text x="1671.9" y="1476.7" font-size="22.36" font-weight="bold" fill="#6495ed" textLength="29.4" lengthAdjust="spacingAndGlyphs" >64</text>
<text x="1748.8" y="1476.7" font-size="22.36" font-weight="bold" fill="#6495ed" textLength="66.7" lengthAdjust="spacingAndGlyphs" >0.008</text>
<text x="133.5" y="1470.5" font-size="29.46" font-weight="bold" fill="#9bb8ee" textLength="747.4" lengthAdjust="spacingAndGlyphs" >SOUNDERPY VERTICAL PROFILE ANALYSIS TOOL</text>
<text x="226.6" y="1496.5" font-size="22.09" font-weight="bold" fill="#9bb8ee" textLength="559.3" lengthAdjust="spacingAndGlyphs" >KYLE J GILLETT | sounderpysoundings.anvil.app</text>
<circle cx="77.2" cy="1476.1" r="32.1" fill="#e4e8f4" stroke="#1c2232" stroke-width="1.6"/>
<polyline points="56.0,1452.0 58.0,1462.0 56.0,1470.0" fill="none" stroke="#a8d4a8" stroke-width="1" />
<polyline points="60.0,1476.0 66.0,1480.0 58.0,1484.0 66.0,1488.0 60.0,1492.0 70.0,1496.0" fill="none" stroke="#9ccf9c" stroke-width="1.4" />
<polyline points="68.0,1447.0 66.0,1458.0 72.0,1472.0 82.0,1490.0 90.0,1500.0" fill="none" stroke="#f0b4b4" stroke-width="0.9" />
<line x1="46.0" y1="1474.6" x2="108.5" y2="1474.6" stroke="#c8d0e0" stroke-width="0.8" />
<line x1="50.5" y1="1493.4" x2="104.0" y2="1493.4" stroke="#c8d0e0" stroke-width="0.8" />
<text x="47.9" y="1472.9" font-size="12.29" font-weight="bold" fill="#000" textLength="54.7" lengthAdjust="spacingAndGlyphs" >SOUNDER</text>
<text x="78.0" y="1488.7" font-size="22.68" fill="#3f8a22" >P</text>
<text x="92.0" y="1489.0" font-size="22.68" fill="#cc0000" >Y</text>
<line x1="58.0" y1="1498.6" x2="96.0" y2="1498.6" stroke="#222" stroke-width="2.2" stroke-dasharray="2.5 1.2"/>
<line x1="64.0" y1="1502.2" x2="90.0" y2="1502.2" stroke="#222" stroke-width="1.8" stroke-dasharray="2.5 1.5"/>
<defs><clipPath id="cpan"><rect x="1837.7" y="1203.4" width="574.4" height="298.9"/></clipPath></defs>
<rect x="1837.7" y="1203.4" width="574.4" height="298.9" fill="#fff" stroke="none" stroke-width="1" />
<g clip-path="url(#cpan)">
<rect x="1837.7" y="1353.8" width="574.4" height="109.1" fill="#add8e6" stroke="none" stroke-width="1" fill-opacity="0.2"/>
<polygon points="1837.7,1203.0 1972.2,1204.0 1965.1,1213.1 1976.2,1223.2 1948.0,1233.3 1862.2,1242.4 1853.2,1260.5 1851.1,1281.7 1875.4,1292.8 1927.8,1302.9 1895.5,1313.0 1899.6,1323.1 1911.7,1333.2 1907.6,1342.3 1939.9,1352.9 1909.7,1363.4 1867.3,1372.5 1848.1,1382.6 1898.6,1392.7 1906.6,1403.4 1893.5,1412.9 1830.0,1417.5 1837.7,1417.5 1837.7,1428.5 1961.1,1442.1 1968.2,1452.2 1974.2,1473.4 1972.2,1484.5 1959.1,1494.6 1924.8,1502.7 1837.7,1503.0" fill="#6495ed" stroke="none" stroke-width="0" fill-opacity="0.2"/>
<polygon points="2124.3,1203.0 2150.3,1203.0 2153.3,1223.2 2151.3,1228.2 2160.3,1260.5 2161.4,1276.7 2165.4,1302.9 2183.5,1353.3 2180.5,1389.6 2174.5,1403.7 2169.4,1417.9 2167.4,1442.1 2163.4,1458.2 2155.3,1472.3 2160.3,1486.5 2168.4,1494.5 2182.0,1503.0 2124.3,1503.0" fill="#6495ed" stroke="none" stroke-width="0" fill-opacity="0.2"/>
<polygon points="1980.3,1203.0 1999.0,1204.0 1998.0,1222.0 1988.4,1233.3 1994.4,1253.5 1985.0,1268.0 1988.0,1288.0 1996.4,1302.9 1997.4,1341.2 1987.0,1362.0 1983.3,1382.6 1999.4,1402.8 1984.3,1422.0 1984.3,1432.0 2010.0,1442.0 2047.0,1452.0 2079.1,1482.5 2080.2,1502.7 1980.3,1503.0" fill="#b8860b" stroke="none" stroke-width="0" fill-opacity="0.3"/>
<line x1="1837.7" y1="1253.0" x2="2412.1" y2="1253.0" stroke="#a8a8a8" stroke-width="1.3" />
<line x1="1837.7" y1="1303.1" x2="2412.1" y2="1303.1" stroke="#a8a8a8" stroke-width="1.3" />
<line x1="1837.7" y1="1353.2" x2="2412.1" y2="1353.2" stroke="#a8a8a8" stroke-width="1.3" />
<line x1="1837.7" y1="1403.3" x2="2412.1" y2="1403.3" stroke="#a8a8a8" stroke-width="1.3" />
<line x1="1837.7" y1="1453.4" x2="2412.1" y2="1453.4" stroke="#a8a8a8" stroke-width="1.3" />
<polyline points="1999.0,1204.0 1998.0,1222.0 1988.4,1233.3 1994.4,1253.5 1985.0,1268.0 1988.0,1288.0 1996.4,1302.9 1997.4,1341.2 1987.0,1362.0 1983.3,1382.6 1999.4,1402.8 1984.3,1422.0 1984.3,1432.0 2010.0,1442.0 2047.0,1452.0 2079.1,1482.5 2080.2,1502.7" fill="none" stroke="#8c8c8c" stroke-width="4.2" stroke-linejoin="round" stroke-opacity="0.9"/>
<polyline points="1985.3,1235.3 1987.3,1252.5 1981.5,1268.0 1983.0,1288.0 1991.4,1305.0 1992.4,1341.2 1984.0,1362.0 1983.0,1383.0 1994.4,1401.8 1983.3,1418.9 1983.0,1432.0 2008.0,1442.0 2045.0,1452.0 2076.1,1484.5 2059.0,1502.7" fill="none" stroke="#fbb030" stroke-width="3.2" stroke-linejoin="round"/>
<polyline points="1996.4,1204.0 1996.4,1220.2 1983.3,1233.3 1984.0,1252.0 1983.0,1270.0 1984.0,1285.0 1990.0,1297.0 1994.4,1303.0 1995.0,1320.0 1995.5,1341.0 1986.0,1363.0 1983.5,1382.6 1992.0,1393.0 1997.4,1402.8 1986.0,1418.0 1983.3,1432.0 2008.5,1442.1 2045.9,1452.2 2077.1,1481.5 2076.1,1488.5 2059.0,1502.7" fill="none" stroke="#8e6018" stroke-width="3.6" stroke-linejoin="round"/>
<polyline points="1972.2,1204.0 1965.1,1213.1 1976.2,1223.2 1948.0,1233.3 1862.2,1242.4 1853.2,1260.5 1851.1,1281.7 1875.4,1292.8 1927.8,1302.9 1895.5,1313.0 1899.6,1323.1 1911.7,1333.2 1907.6,1342.3 1939.9,1352.9 1909.7,1363.4 1867.3,1372.5 1848.1,1382.6 1898.6,1392.7 1906.6,1403.4" fill="none" stroke="#ff0000" stroke-width="4" stroke-linejoin="round"/>
<polyline points="1906.6,1403.4 1893.5,1412.9 1830.0,1417.5" fill="none" stroke="#800080" stroke-width="4" stroke-linejoin="round"/>
<polyline points="1830.0,1428.5 1961.1,1442.1 1968.2,1452.2 1974.2,1473.4 1972.2,1484.5 1959.1,1494.6 1924.8,1502.7" fill="none" stroke="#800080" stroke-width="4" stroke-linejoin="round"/>
<polyline points="2150.3,1203.0 2153.3,1223.2 2151.3,1228.2 2160.3,1260.5 2161.4,1276.7 2165.4,1302.9 2183.5,1353.3 2180.5,1389.6 2174.5,1403.7" fill="none" stroke="#f22a2a" stroke-width="3.6" stroke-linejoin="round"/>
<polyline points="2174.5,1403.7 2169.4,1417.9 2167.4,1442.1 2163.4,1458.2 2155.3,1472.3 2160.3,1486.5 2168.4,1494.5 2182.0,1503.0" fill="none" stroke="#8b2b96" stroke-width="3.6" stroke-linejoin="round"/>
<polygon points="2339.9,1264.6 2306.6,1273.6 2305.6,1282.7 2339.9,1293.8" fill="#7dbcb9" stroke="none" stroke-width="0" />
<polygon points="2339.9,1325.1 2314.7,1353.3 2323.7,1364.4 2339.9,1373.5 2336.0,1385.0 2333.8,1401.7 2333.8,1452.2 2309.6,1463.3 2270.3,1471.0 2270.3,1474.0 2339.9,1482.4" fill="#7dbcb9" stroke="none" stroke-width="0" />
<polygon points="2340.0,1325.1 2343.9,1353.3 2356.0,1373.5 2355.0,1391.6 2359.0,1452.2 2348.0,1462.3 2340.9,1480.4 2340.0,1480.4" fill="#f99a3e" stroke="none" stroke-width="0" />
<line x1="2340.3" y1="1206.0" x2="2340.3" y2="1502.0" stroke="#1f77b4" stroke-width="2" stroke-dasharray="1.5 3.2"/>
</g>
<rect x="1837.7" y="1203.4" width="142.6" height="298.9" fill="none" stroke="#000" stroke-width="1.3" />
<rect x="1980.3" y="1203.4" width="144.0" height="298.9" fill="none" stroke="#000" stroke-width="1.3" />
<rect x="2124.3" y="1203.4" width="145.2" height="298.9" fill="none" stroke="#000" stroke-width="1.3" />
<rect x="2269.5" y="1203.4" width="142.6" height="298.9" fill="none" stroke="#000" stroke-width="1.3" />
<line x1="1860.2" y1="1502.3" x2="1860.2" y2="1498.3" stroke="#000" stroke-width="1" />
<text x="1851.2" y="1496.8" font-size="13.99" font-weight="bold" font-style="italic" fill="#7b7f87" textLength="18.4" lengthAdjust="spacingAndGlyphs" >50</text>
<line x1="1906.6" y1="1502.3" x2="1906.6" y2="1498.3" stroke="#000" stroke-width="1" />
<text x="1897.1" y="1496.8" font-size="13.99" font-weight="bold" font-style="italic" fill="#7b7f87" textLength="18.4" lengthAdjust="spacingAndGlyphs" >70</text>
<line x1="1953.0" y1="1502.3" x2="1953.0" y2="1498.3" stroke="#000" stroke-width="1" />
<text x="1943.8" y="1496.8" font-size="13.99" font-weight="bold" font-style="italic" fill="#7b7f87" textLength="18.4" lengthAdjust="spacingAndGlyphs" >90</text>
<line x1="2004.5" y1="1502.3" x2="2004.5" y2="1498.3" stroke="#000" stroke-width="1" />
<text x="1993.3" y="1496.8" font-size="13.99" font-weight="bold" font-style="italic" fill="#7b7f87" textLength="23.4" lengthAdjust="spacingAndGlyphs" >.01</text>
<line x1="2052.9" y1="1502.3" x2="2052.9" y2="1498.3" stroke="#000" stroke-width="1" />
<text x="2041.3" y="1496.8" font-size="13.99" font-weight="bold" font-style="italic" fill="#7b7f87" textLength="23.4" lengthAdjust="spacingAndGlyphs" >.03</text>
<line x1="2101.3" y1="1502.3" x2="2101.3" y2="1498.3" stroke="#000" stroke-width="1" />
<text x="2089.7" y="1496.8" font-size="13.99" font-weight="bold" font-style="italic" fill="#7b7f87" textLength="23.4" lengthAdjust="spacingAndGlyphs" >.05</text>
<line x1="2160.0" y1="1502.3" x2="2160.0" y2="1498.3" stroke="#000" stroke-width="1" />
<text x="2151.0" y="1496.8" font-size="13.99" font-weight="bold" font-style="italic" fill="#7b7f87" textLength="18.4" lengthAdjust="spacingAndGlyphs" >20</text>
<line x1="2196.7" y1="1502.3" x2="2196.7" y2="1498.3" stroke="#000" stroke-width="1" />
<text x="2187.8" y="1496.8" font-size="13.99" font-weight="bold" font-style="italic" fill="#7b7f87" textLength="18.4" lengthAdjust="spacingAndGlyphs" >30</text>
<line x1="2233.4" y1="1502.3" x2="2233.4" y2="1498.3" stroke="#000" stroke-width="1" />
<text x="2224.5" y="1496.8" font-size="13.99" font-weight="bold" font-style="italic" fill="#7b7f87" textLength="18.4" lengthAdjust="spacingAndGlyphs" >40</text>
<line x1="2292.5" y1="1502.3" x2="2292.5" y2="1498.3" stroke="#000" stroke-width="1" />
<g transform="translate(2291.5,1486.0) rotate(-45)"><text x="-15.4" y="4.5" font-size="13.14" font-weight="bold" font-style="italic" fill="#808080" textLength="31.0" lengthAdjust="spacingAndGlyphs" >-200</text></g>
<line x1="2316.1" y1="1502.3" x2="2316.1" y2="1498.3" stroke="#000" stroke-width="1" />
<g transform="translate(2315.1,1486.0) rotate(-45)"><text x="-15.4" y="4.5" font-size="13.14" font-weight="bold" font-style="italic" fill="#808080" textLength="31.0" lengthAdjust="spacingAndGlyphs" >-100</text></g>
<line x1="2339.9" y1="1502.3" x2="2339.9" y2="1498.3" stroke="#000" stroke-width="1" />
<g transform="translate(2338.9,1486.0) rotate(-45)"><text x="-4.3" y="4.5" font-size="13.14" font-weight="bold" font-style="italic" fill="#808080" >0</text></g>
<line x1="2364.1" y1="1502.3" x2="2364.1" y2="1498.3" stroke="#000" stroke-width="1" />
<g transform="translate(2363.1,1486.0) rotate(-45)"><text x="-9.0" y="4.5" font-size="13.14" font-weight="bold" font-style="italic" fill="#808080" textLength="16.9" lengthAdjust="spacingAndGlyphs" >1k</text></g>
<line x1="2388.3" y1="1502.3" x2="2388.3" y2="1498.3" stroke="#000" stroke-width="1" />
<g transform="translate(2387.3,1486.0) rotate(-45)"><text x="-8.8" y="4.5" font-size="13.14" font-weight="bold" font-style="italic" fill="#808080" textLength="16.9" lengthAdjust="spacingAndGlyphs" >2k</text></g>
<text x="2234.3" y="1489.5" font-size="14.41" font-weight="bold" fill="#000" textLength="38.6" lengthAdjust="spacingAndGlyphs" >-LCL-</text>
<text x="1852.5" y="1303.9" font-size="14.83" font-weight="bold" fill="#000" textLength="38.5" lengthAdjust="spacingAndGlyphs" >2 km</text>
<text x="1852.1" y="1352.3" font-size="14.83" font-weight="bold" fill="#000" textLength="53.6" lengthAdjust="spacingAndGlyphs" >1.5 km</text>
<text x="1852.1" y="1402.8" font-size="14.83" font-weight="bold" fill="#000" textLength="38.5" lengthAdjust="spacingAndGlyphs" >1 km</text>
<text x="1852.2" y="1452.6" font-size="14.83" font-weight="bold" fill="#000" textLength="43.8" lengthAdjust="spacingAndGlyphs" >.5 km</text>
<text x="1845.1" y="1226.8" font-size="14.83" font-weight="bold" fill="#111" textLength="128.9" lengthAdjust="spacingAndGlyphs" >Streamwiseness</text>
<text x="1879.7" y="1242.4" font-size="14.83" font-weight="bold" fill="#111" textLength="60.6" lengthAdjust="spacingAndGlyphs" >of ζ (%)</text>
<text x="2012.4" y="1233.3" font-size="17.70" font-weight="bold" fill="#111" textLength="81.7" lengthAdjust="spacingAndGlyphs" >Total ζ &amp;</text>
<text x="1989.5" y="1251.5" font-size="17.70" font-weight="bold" fill="#111" textLength="126.3" lengthAdjust="spacingAndGlyphs" >Streamwise ζ</text>
<text x="2026.6" y="1268.6" font-size="17.70" font-weight="bold" fill="#111" textLength="52.5" lengthAdjust="spacingAndGlyphs" >(/sec)</text>
<text x="2125.5" y="1238.3" font-size="17.70" font-weight="bold" fill="#111" textLength="140.0" lengthAdjust="spacingAndGlyphs" >Storm Relative</text>
<text x="2147.1" y="1255.5" font-size="17.70" font-weight="bold" fill="#111" textLength="98.1" lengthAdjust="spacingAndGlyphs" >Wind (kts)</text>
<text x="2295.9" y="1233.3" font-size="17.70" font-weight="bold" fill="#111" textLength="85.7" lengthAdjust="spacingAndGlyphs" >Stepwise</text>
<text x="2285.4" y="1251.4" font-size="17.70" font-weight="bold" fill="#111" textLength="107.5" lengthAdjust="spacingAndGlyphs" >CIN &amp; CAPE</text>
<text x="2313.6" y="1268.6" font-size="17.70" font-weight="bold" fill="#111" textLength="50.6" lengthAdjust="spacingAndGlyphs" >(J/kg)</text>
<rect x="0.0" y="0.0" width="2452.0" height="6.0" fill="#000" stroke="none" stroke-width="1" />
<rect x="0.0" y="0.0" width="7.0" height="1532.0" fill="#000" stroke="none" stroke-width="1" />
<rect x="2444.5" y="0.0" width="7.5" height="1532.0" fill="#000" stroke="none" stroke-width="1" />
<rect x="0.0" y="1525.2" width="2452.0" height="6.8" fill="#000" stroke="none" stroke-width="1" />
</svg></body></html>
